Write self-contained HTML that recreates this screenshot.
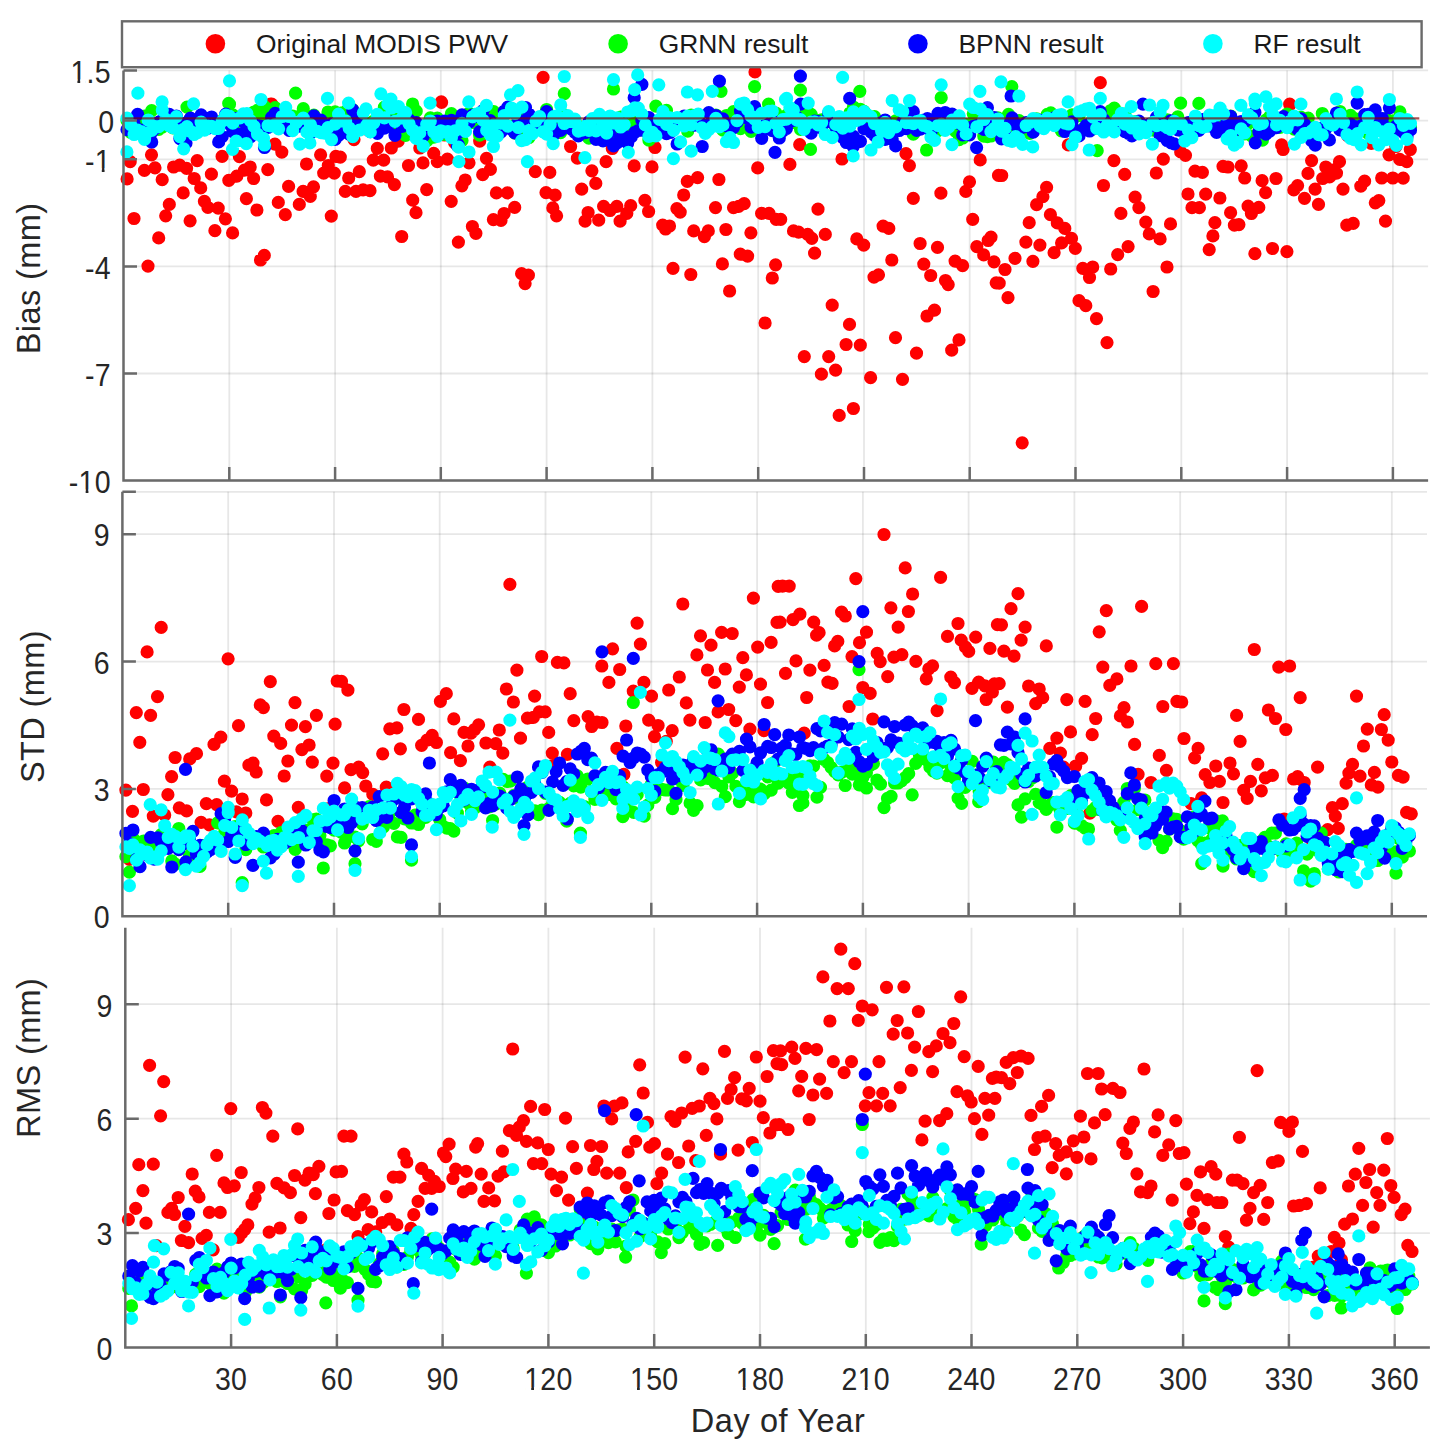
<!DOCTYPE html>
<html><head><meta charset="utf-8"><style>
html,body{margin:0;padding:0;background:#fff;}
svg{display:block;}
text{font-family:"Liberation Sans",sans-serif;fill:#262626;}
.tk{font-size:28.5px;letter-spacing:0.3px;}
.lb{font-size:32.5px;letter-spacing:0.4px;}
.xl{letter-spacing:0.6px;}
.lg{font-size:26.4px;fill:#1a1a1a;}
</style></head><body>
<svg width="1449" height="1444" viewBox="0 0 1449 1444">
<rect width="1449" height="1444" fill="#fff"/>
<path d="M229.3 70.4V480.5M335.1 70.4V480.5M440.8 70.4V480.5M546.6 70.4V480.5M652.4 70.4V480.5M758.2 70.4V480.5M864 70.4V480.5M969.7 70.4V480.5M1075.5 70.4V480.5M1181.3 70.4V480.5M1287.1 70.4V480.5M1392.9 70.4V480.5" stroke="#262626" stroke-opacity="0.11" stroke-width="1.8" fill="none"/>
<path d="M123.5 70.4H1428.1M123.5 120.6H1428.1M123.5 159.3H1428.1M123.5 266.4H1428.1M123.5 373.5H1428.1M123.5 480.5H1428.1" stroke="#262626" stroke-opacity="0.11" stroke-width="1.8" fill="none"/>
<path d="M270.8 104.6h0M274.9 144.2h0M281.8 152.1h0M151.5 154.8h0M222.1 156.4h0M239.4 156.7h0M130.2 161.7h0M320.6 154.8h0M335.9 156.4h0M306.5 164h0M197.2 160.6h0M173.6 167h0M179.7 165.2h0M186.6 168.3h0M155 167.8h0M144.4 170.4h0M127.1 178.9h0M162.2 179.7h0M194.2 178.5h0M211.4 174.2h0M228.8 180.3h0M236.8 176.2h0M244.5 170.1h0M250.2 167h0M253.6 178.5h0M267.8 169.6h0M323.7 173.1h0M328.3 165.5h0M334.3 173.1h0M200.7 187.9h0M183.2 192.9h0M288.6 186.4h0M303.1 191.4h0M313.5 186.8h0M310.3 196.4h0M169.3 204.4h0M204.4 201.3h0M207.9 207.4h0M218.2 208.2h0M246.4 198.7h0M256.9 210h0M278.3 202.4h0M299.3 204.4h0M134 218.5h0M165.7 215.8h0M190.1 220.8h0M225.4 218.8h0M285.3 214.7h0M331.3 216.1h0M214.9 230.7h0M232.6 232.9h0M158.7 237.9h0M264.3 255.4h0M260.5 260h0M148 266.1h0M340.3 157.1h0M348.7 178h0M359.3 171.6h0M345.3 191.4h0M356 191.4h0M363.1 189.9h0M370 190.7h0M373.3 160.2h0M377.3 148.4h0M383.7 160.2h0M391.3 148h0M398.2 141.1h0M380.4 176.2h0M387.5 176.9h0M394.4 184.6h0M408.5 165.5h0M423 162.9h0M419.8 148h0M433.7 153.3h0M437.3 161.7h0M447.4 159.1h0M426.7 189.6h0M412.7 200.2h0M416 212.7h0M401.7 236.5h0M444.6 135h0M454.6 142.7h0M469 162.8h0M465.2 180h0M461.9 185.8h0M451.2 201.3h0M458.4 242.1h0M472.4 226.5h0M475.9 233.3h0M486.5 158.4h0M490.4 169.3h0M482.7 174.7h0M479.7 141.1h0M496.4 192.9h0M507.4 192.9h0M514.7 207.4h0M504.1 213.5h0M493.4 219.6h0M501 220.4h0M535.3 171.6h0M549.8 172.4h0M546 192.6h0M555.1 195.2h0M552.8 207.9h0M556.6 215.8h0M521.6 273.7h0M528.4 275.2h0M525.1 283.6h0M441.6 102.3h0M354 139.6h0M365.4 128.9h0M570.6 146.5h0M577.4 158.2h0M591.9 170.8h0M595.8 183.4h0M581.7 189.2h0M606.1 161.7h0M612.3 148.5h0M634.2 165.9h0M652 166.9h0M655 147.5h0M588.1 212.5h0M585.1 221.2h0M598.7 220.2h0M603.6 206.3h0M610 210.5h0M616.8 206.3h0M620.1 221.2h0M626.8 213.4h0M630.7 205.7h0M644.9 200.4h0M648.6 211.5h0M662.7 225.1h0M669.5 226h0M665.6 229h0M676.9 208.6h0M680.2 212.1h0M683.7 195h0M687.3 181.4h0M697.6 177.6h0M718.9 179.5h0M715.5 207.6h0M693.7 230.9h0M704.4 236.7h0M708.3 230.9h0M725.9 229.5h0M733.5 207.6h0M744.2 203.7h0M738.7 206.3h0M750.9 232.8h0M740.3 254.2h0M747.6 256.1h0M722.4 263.9h0M673 268.3h0M690.8 274.5h0M729.6 291h0M765.1 323h0M757.7 167.9h0M761.6 213.4h0M769 213.4h0M776.2 219.3h0M775.6 264.8h0M772.3 278h0M714.1 115.5h0M799.7 144.6h0M789.9 164.4h0M842 159h0M906 153.7h0M909.4 165.6h0M980.2 159.9h0M998.5 175.4h0M969.5 181.8h0M965.8 191.4h0M940.9 193.2h0M913.3 198.3h0M818 209.2h0M780.7 219.3h0M793.5 230.9h0M798.6 232.1h0M807.7 234.4h0M811.8 238.3h0M825.3 234.4h0M814.6 253.1h0M856.8 238.9h0M863.7 245.1h0M883.1 226.1h0M888.8 228.4h0M891.8 260h0M920.1 243.5h0M937.5 247.4h0M923.8 264.1h0M930.7 275.5h0M955.1 261.1h0M962.6 265.7h0M945.5 280.5h0M948.2 284.6h0M972.7 219.3h0M976.8 246.7h0M983.7 254.9h0M988.2 240.5h0M991 237.1h0M994 261.8h0M996.2 282.8h0M874 277.1h0M878.5 274.8h0M832.2 305.2h0M849.5 324.4h0M846.1 344.5h0M860.3 345.2h0M804.3 356.6h0M828.7 356.6h0M821.4 374.2h0M835.6 370.1h0M870.6 377.7h0M895.5 337.7h0M916.5 353.2h0M902.5 379.3h0M927 316h0M934.5 310.2h0M959 339.9h0M951.7 350.2h0M839.2 415.4h0M853.4 408.5h0M1068.3 144.9h0M1001.7 175.5h0M1046.6 187.3h0M1042.9 196.7h0M1036.6 204.7h0M1029.2 222.7h0M1050.4 214.7h0M1057.3 222.9h0M1064.8 228.4h0M1071.5 238.4h0M1075.3 248.3h0M1061.6 242.9h0M1054.1 252.6h0M1039.9 245.1h0M1025.9 242.1h0M1032.9 261.3h0M1015 258.3h0M1005 269.5h0M999.2 283.2h0M1008 297.7h0M1082.8 268.3h0M1092.7 267h0M1089.5 277.5h0M1079 300.7h0M1085.8 305.7h0M1096.5 318.6h0M1107 342.6h0M1022.2 442.8h0M1113.9 160.6h0M1124.7 174.3h0M1103.5 185.5h0M1135.1 197.2h0M1138.9 207.7h0M1120.9 213.4h0M1145.8 222.2h0M1149.3 233.9h0M1160.1 238.9h0M1170.5 223.9h0M1128.1 246.6h0M1117.7 254.6h0M1110.7 269h0M1167 267h0M1153.1 291.5h0M1156.3 173h0M1163.3 159.1h0M1180.7 151.9h0M1185.5 155.3h0M1195 171.1h0M1202.4 172.3h0M1188 194h0M1205.7 194.2h0M1192 207.7h0M1199.4 207.7h0M1214.9 222.7h0M1212.9 235.9h0M1209.2 249.6h0M1223 166.3h0M1228 167h0M1241.2 165.8h0M1244.7 178h0M1219.9 198h0M1230.6 212.7h0M1234.4 225.2h0M1238.9 224.6h0M1248.1 206.2h0M1251.4 213.5h0M1258.8 207.4h0M1262.1 180.7h0M1265.6 192.6h0M1276 178.5h0M1254.9 253.6h0M1272.5 248.5h0M1286.9 251.6h0M1281.6 144.9h0M1283.1 149.5h0M1290 104.6h0M1293.8 189.9h0M1297.6 185.6h0M1304.5 198.3h0M1308 173.4h0M1311.6 160.6h0M1315.1 189.1h0M1318.5 204.4h0M1322.7 178.5h0M1325.8 167h0M1329.6 176.9h0M1331.9 170.1h0M1336.5 173.1h0M1339.5 161.7h0M1343 189.1h0M1346.8 225.2h0M1353.2 223.4h0M1360.8 186.1h0M1364.6 181.2h0M1371.2 143.4h0M1375.3 202.8h0M1378.8 200.6h0M1381.7 178h0M1385.5 221.1h0M1389 154.8h0M1392.8 178h0M1395.9 146.5h0M1399.7 159.4h0M1403.2 178.2h0M1406.8 161.7h0M1410.3 149.5h0M1302.9 128.9h0M1347.9 135.8h0M271.7 104.2h0M441.3 101.9h0M543.1 77.3h0M755 71.9h0M1100.3 82.6h0M1289.7 104.2h0M270.6 104.2h0" stroke="#ff0000" stroke-width="13.2" stroke-linecap="round" fill="none"/>
<path d="M127 120.5h0M130.6 132.4h0M134.1 123.1h0M137.6 123.1h0M141.1 124.6h0M144.7 116h0M148.2 117.7h0M151.7 110.6h0M155.2 127.2h0M158.8 129.3h0M162.3 127h0M165.8 123.4h0M169.3 115.2h0M172.9 127.9h0M176.4 123.7h0M179.9 127.5h0M183.4 125.4h0M187 107.1h0M190.5 118.7h0M194 131.2h0M197.5 123.1h0M201.1 120.3h0M204.6 125h0M208.1 121.7h0M211.6 126.2h0M215.2 121.9h0M218.7 123.5h0M222.2 120.6h0M225.8 120.4h0M229.3 123h0M232.8 114.9h0M236.3 122.2h0M239.9 119.7h0M243.4 119.9h0M246.9 129.5h0M250.4 123.7h0M254 112h0M257.5 110.3h0M261 113.6h0M264.5 106.7h0M268.1 123.4h0M271.6 109.7h0M275.1 107.7h0M278.6 113h0M282.2 112.5h0M285.7 113.4h0M289.2 123.8h0M292.7 116.2h0M296.3 117.8h0M299.8 116.2h0M303.3 108.7h0M306.9 127.5h0M310.4 125.4h0M313.9 115.1h0M317.4 127.9h0M321 122.4h0M324.5 132.1h0M328 112h0M331.5 126.5h0M335.1 111.9h0M338.6 118.8h0M342.1 112.8h0M345.6 111.7h0M349.2 114.6h0M352.7 109.6h0M356.2 123.8h0M359.7 126h0M363.3 123.6h0M366.8 123h0M370.3 125.6h0M373.8 121h0M377.4 120.1h0M380.9 127.6h0M384.4 107.2h0M387.9 121.2h0M391.5 127.2h0M395 114.9h0M398.5 125.5h0M402.1 130.1h0M405.6 135.4h0M409.1 131.6h0M412.6 104h0M416.2 111.2h0M419.7 129.1h0M423.2 131.8h0M426.7 140.9h0M430.3 117.9h0M433.8 137.1h0M437.3 118.1h0M440.8 130.8h0M444.4 134.3h0M447.9 124.5h0M451.4 113.7h0M454.9 123.8h0M458.5 129h0M462 140.6h0M465.5 117.9h0M469 113.1h0M472.6 122.5h0M476.1 122.3h0M479.6 135.2h0M483.2 133.7h0M486.7 129.5h0M490.2 116.4h0M493.7 111.6h0M497.3 132.8h0M500.8 122.4h0M504.3 112.4h0M507.8 109.5h0M511.4 126.3h0M514.9 133.1h0M518.4 125.5h0M521.9 116.6h0M525.5 133.7h0M529 137.5h0M532.5 131.5h0M536 123.2h0M539.6 121.4h0M543.1 128.3h0M546.6 109.5h0M550.1 118.3h0M553.7 119.6h0M557.2 124.2h0M560.7 132.6h0M564.2 114.9h0M567.8 120.6h0M571.3 119.4h0M574.8 124.7h0M578.4 126.1h0M581.9 131.5h0M585.4 127.2h0M588.9 138.2h0M592.5 137.5h0M596 123.5h0M599.5 125.8h0M603 128h0M606.6 121.8h0M610.1 133.3h0M613.6 137.5h0M617.1 119.6h0M620.7 117.1h0M624.2 123.5h0M627.7 127h0M631.2 134.3h0M634.8 116h0M638.3 124.6h0M641.8 129.8h0M645.3 129.9h0M648.9 140.1h0M652.4 134.1h0M655.9 106.2h0M659.5 129.7h0M663 128.9h0M666.5 110.4h0M670 117.9h0M673.6 126.4h0M677.1 125.1h0M680.6 122.8h0M684.1 124.2h0M687.7 131.1h0M691.2 115.1h0M694.7 124.1h0M698.2 117.5h0M701.8 124.4h0M705.3 126.5h0M708.8 125.3h0M712.3 119.6h0M715.9 115h0M719.4 119.4h0M722.9 130.2h0M726.4 115.5h0M730 129.5h0M733.5 111.7h0M737 123.7h0M740.5 128.6h0M744.1 125.6h0M747.6 119.6h0M751.1 131.3h0M754.7 122.7h0M758.2 123.6h0M761.7 129.1h0M765.2 115.9h0M768.8 128h0M772.3 115.7h0M775.8 113h0M779.3 134.4h0M782.9 124h0M786.4 115.3h0M789.9 121.2h0M793.4 122.3h0M797 120.8h0M800.5 129.3h0M804 112.7h0M807.5 111.3h0M811.1 114.3h0M814.6 119.4h0M818.1 123.2h0M821.6 119.9h0M825.2 119h0M828.7 117.7h0M832.2 120.3h0M835.8 127.6h0M839.3 129.8h0M842.8 133.2h0M846.3 136.2h0M849.9 113h0M853.4 107h0M856.9 112.9h0M860.4 109.3h0M864 111.3h0M867.5 122.7h0M871 131.2h0M874.5 116.7h0M878.1 124.7h0M881.6 130.9h0M885.1 135.7h0M888.6 132.5h0M892.2 124h0M895.7 120.8h0M899.2 126.3h0M902.7 126.5h0M906.3 123.7h0M909.8 113.4h0M913.3 134.2h0M916.8 120.8h0M920.4 128.6h0M923.9 122.2h0M927.4 120.4h0M931 120.5h0M934.5 124.5h0M938 130.7h0M941.5 122.5h0M945.1 127.3h0M948.6 123.2h0M952.1 116.7h0M955.6 131.4h0M959.2 139.6h0M962.7 138h0M966.2 124.5h0M969.7 129.1h0M973.3 113.8h0M976.8 126.1h0M980.3 123.6h0M983.8 136.2h0M987.4 136.6h0M990.9 136h0M994.4 134h0M997.9 117.9h0M1001.5 125.9h0M1005 127.3h0M1008.5 114.3h0M1012.1 125h0M1015.6 132.7h0M1019.1 120.7h0M1022.6 127.1h0M1026.2 132h0M1029.7 133.3h0M1033.2 131.7h0M1036.7 118.9h0M1040.3 122.5h0M1043.8 120.3h0M1047.3 114.3h0M1050.8 112.8h0M1054.4 115.9h0M1057.9 122.1h0M1061.4 130.8h0M1064.9 119.8h0M1068.5 119.9h0M1072 114.9h0M1075.5 115.6h0M1079 115.7h0M1082.6 129.1h0M1086.1 126.7h0M1089.6 123.3h0M1093.2 128.9h0M1096.7 116.7h0M1100.2 118.8h0M1103.7 115.2h0M1107.3 120.3h0M1110.8 110.5h0M1114.3 108.2h0M1117.8 113.3h0M1121.4 121.3h0M1124.9 114h0M1128.4 130.7h0M1131.9 124.5h0M1135.5 121.6h0M1139 129.2h0M1142.5 130.2h0M1146 128.8h0M1149.6 126.5h0M1153.1 130.1h0M1156.6 123.8h0M1160.1 124.4h0M1163.7 123.7h0M1167.2 119.9h0M1170.7 127.2h0M1174.2 122.1h0M1177.8 116.9h0M1181.3 130.3h0M1184.8 124.3h0M1188.4 134.2h0M1191.9 130.2h0M1195.4 130.1h0M1198.9 103.4h0M1202.5 121.2h0M1206 122.9h0M1209.5 118.2h0M1213 123.3h0M1216.6 117.3h0M1220.1 124.3h0M1223.6 126.6h0M1227.1 117.5h0M1230.7 116h0M1234.2 128h0M1237.7 123h0M1241.2 130.9h0M1244.8 133.8h0M1248.3 123.4h0M1251.8 136.2h0M1255.3 139.5h0M1258.9 125.3h0M1262.4 140.2h0M1265.9 120.2h0M1269.5 117h0M1273 124.2h0M1276.5 125.2h0M1280 127.4h0M1283.6 126h0M1287.1 114h0M1290.6 118.7h0M1294.1 129.2h0M1297.7 127.1h0M1301.2 117.3h0M1304.7 118.7h0M1308.2 118.2h0M1311.8 127.5h0M1315.3 129.1h0M1318.8 132.8h0M1322.3 113.5h0M1325.9 127h0M1329.4 122.4h0M1332.9 120.7h0M1336.4 114.9h0M1340 111.5h0M1343.5 121.8h0M1347 126.7h0M1350.5 115.4h0M1354.1 118.4h0M1357.6 127.6h0M1361.1 118.5h0M1364.7 124.9h0M1368.2 133.3h0M1371.7 125.8h0M1375.2 124.7h0M1378.8 130.1h0M1382.3 120.7h0M1385.8 118.7h0M1389.3 121.8h0M1392.9 120.9h0M1396.4 122.6h0M1399.9 111.8h0M1403.4 127.5h0M1407 123.5h0M1410.5 127.4h0M229.5 104.2h0M295.6 93.2h0M413.6 107.8h0M564.3 93.7h0M613.5 89h0M754.6 86.6h0M768.6 104.2h0M721 91.3h0M800.4 90.2h0M859.8 91.3h0M941.2 97.7h0M1011.8 86.6h0M1097.2 150.7h0M810.5 149.3h0M926.6 150h0M1180.6 103.1h0M228.7 103.3h0" stroke="#00ff00" stroke-width="13.2" stroke-linecap="round" fill="none"/>
<path d="M127 129.7h0M130.6 124.7h0M134.1 123.7h0M137.6 114.3h0M141.1 130.2h0M144.7 130h0M148.2 128h0M151.7 142h0M155.2 128.5h0M158.8 122.2h0M162.3 119.8h0M165.8 122.3h0M169.3 114.3h0M172.9 124.4h0M176.4 116h0M179.9 138.6h0M183.4 126.8h0M187 122.4h0M190.5 118.1h0M194 131h0M197.5 122.7h0M201.1 114.9h0M204.6 121.8h0M208.1 128.2h0M211.6 117h0M215.2 123.4h0M218.7 141.9h0M222.2 136.6h0M225.8 114.2h0M229.3 124h0M232.8 131.5h0M236.3 118.5h0M239.9 134.1h0M243.4 121.6h0M246.9 126.3h0M250.4 136.8h0M254 124.7h0M257.5 125.7h0M261 126.3h0M264.5 147.5h0M268.1 127.4h0M271.6 117.4h0M275.1 113.4h0M278.6 120h0M282.2 114h0M285.7 123.5h0M289.2 130.4h0M292.7 122.4h0M296.3 123.2h0M299.8 126.1h0M303.3 122.7h0M306.9 124.8h0M310.4 133h0M313.9 115.8h0M317.4 123.1h0M321 120.1h0M324.5 132.3h0M328 131h0M331.5 123.8h0M335.1 139.4h0M338.6 135.4h0M342.1 121.9h0M345.6 128.5h0M349.2 134.1h0M352.7 109.9h0M356.2 119.9h0M359.7 128h0M363.3 127.8h0M366.8 126.9h0M370.3 131.7h0M373.8 128.4h0M377.4 133.3h0M380.9 122.4h0M384.4 128.2h0M387.9 125.8h0M391.5 122.1h0M395 135.3h0M398.5 121.3h0M402.1 126.4h0M405.6 118.6h0M409.1 119.8h0M412.6 125.1h0M416.2 122.7h0M419.7 132.8h0M423.2 136.1h0M426.7 129h0M430.3 129.5h0M433.8 132.1h0M437.3 121.2h0M440.8 132.9h0M444.4 121.2h0M447.9 123.8h0M451.4 120.4h0M454.9 136h0M458.5 132.4h0M462 114.9h0M465.5 120.5h0M469 122.3h0M472.6 115h0M476.1 116.3h0M479.6 131.7h0M483.2 110.5h0M486.7 128.3h0M490.2 120.7h0M493.7 135.9h0M497.3 127.8h0M500.8 132.2h0M504.3 111.2h0M507.8 107.1h0M511.4 129.4h0M514.9 132.9h0M518.4 120.1h0M521.9 121.5h0M525.5 107.5h0M529 114.1h0M532.5 118.6h0M536 125.8h0M539.6 127.8h0M543.1 122.5h0M546.6 111.6h0M550.1 124.3h0M553.7 134.8h0M557.2 129.8h0M560.7 130.4h0M564.2 121.3h0M567.8 119.1h0M571.3 129h0M574.8 132.4h0M578.4 135.9h0M581.9 132.4h0M585.4 132.7h0M588.9 121.9h0M592.5 128.9h0M596 139.4h0M599.5 137.3h0M603 140.9h0M606.6 138.1h0M610.1 131.8h0M613.6 145.9h0M617.1 142.8h0M620.7 138.3h0M624.2 136h0M627.7 143h0M631.2 136.9h0M634.8 132.4h0M638.3 130.5h0M641.8 119.9h0M645.3 131.1h0M648.9 117.6h0M652.4 128.1h0M655.9 125.1h0M659.5 126h0M663 119.3h0M666.5 133.6h0M670 132.5h0M673.6 122.5h0M677.1 144h0M680.6 120h0M684.1 116.2h0M687.7 123h0M691.2 120.9h0M694.7 125.1h0M698.2 122.3h0M701.8 124.2h0M705.3 128.8h0M708.8 112.6h0M712.3 118.3h0M715.9 115.5h0M719.4 121.4h0M722.9 118.8h0M726.4 125.8h0M730 125.6h0M733.5 127.6h0M737 122.1h0M740.5 111.1h0M744.1 108.9h0M747.6 118.4h0M751.1 127.2h0M754.7 120h0M758.2 123.7h0M761.7 138.3h0M765.2 129.4h0M768.8 123.7h0M772.3 130.6h0M775.8 122.4h0M779.3 138h0M782.9 130.8h0M786.4 128.5h0M789.9 121.3h0M793.4 120.3h0M797 117.4h0M800.5 104.2h0M804 123.4h0M807.5 128h0M811.1 133.2h0M814.6 121.2h0M818.1 121.5h0M821.6 128h0M825.2 121.7h0M828.7 113.2h0M832.2 122.5h0M835.8 132.7h0M839.3 134.6h0M842.8 137.7h0M846.3 142.5h0M849.9 134.4h0M853.4 136.3h0M856.9 141.1h0M860.4 141.4h0M864 128.7h0M867.5 129h0M871 132h0M874.5 135.4h0M878.1 137.2h0M881.6 122.6h0M885.1 120h0M888.6 127.6h0M892.2 139h0M895.7 145.9h0M899.2 130.5h0M902.7 121.8h0M906.3 128.7h0M909.8 121.8h0M913.3 111.7h0M916.8 130.4h0M920.4 129.2h0M923.9 120.1h0M927.4 118.6h0M931 132.1h0M934.5 122.5h0M938 113.4h0M941.5 116.9h0M945.1 112.5h0M948.6 123.5h0M952.1 114.2h0M955.6 121.7h0M959.2 123.7h0M962.7 134.9h0M966.2 127.7h0M969.7 134.8h0M973.3 126.4h0M976.8 125.7h0M980.3 127.1h0M983.8 129.3h0M987.4 107.7h0M990.9 123.4h0M994.4 117.6h0M997.9 129h0M1001.5 138.8h0M1005 134.6h0M1008.5 124.2h0M1012.1 117.8h0M1015.6 125.2h0M1019.1 125h0M1022.6 127.3h0M1026.2 122.7h0M1029.7 127.2h0M1033.2 132.2h0M1036.7 126.8h0M1040.3 120.4h0M1043.8 121.3h0M1047.3 118.9h0M1050.8 123.1h0M1054.4 117.9h0M1057.9 121.5h0M1061.4 123.6h0M1064.9 131.5h0M1068.5 126.4h0M1072 121.8h0M1075.5 130.6h0M1079 135.9h0M1082.6 129.9h0M1086.1 125.3h0M1089.6 131h0M1093.2 124.7h0M1096.7 124.2h0M1100.2 111.7h0M1103.7 119.6h0M1107.3 128.5h0M1110.8 129h0M1114.3 124.7h0M1117.8 127.8h0M1121.4 125.1h0M1124.9 131.7h0M1128.4 133.3h0M1131.9 135.9h0M1135.5 123.2h0M1139 121.2h0M1142.5 129.8h0M1146 128.7h0M1149.6 124.1h0M1153.1 125.6h0M1156.6 117.1h0M1160.1 135.7h0M1163.7 124.9h0M1167.2 140.5h0M1170.7 120.9h0M1174.2 143.8h0M1177.8 129.8h0M1181.3 130.1h0M1184.8 131.3h0M1188.4 122.6h0M1191.9 124.3h0M1195.4 125.8h0M1198.9 130.3h0M1202.5 119.7h0M1206 123.8h0M1209.5 125.8h0M1213 118.7h0M1216.6 132.4h0M1220.1 128.1h0M1223.6 128.8h0M1227.1 121.4h0M1230.7 116.3h0M1234.2 130.7h0M1237.7 126.6h0M1241.2 121.7h0M1244.8 121.7h0M1248.3 116.7h0M1251.8 117.6h0M1255.3 142.8h0M1258.9 132.1h0M1262.4 124.1h0M1265.9 134.2h0M1269.5 131.3h0M1273 124h0M1276.5 127.7h0M1280 124.8h0M1283.6 116.6h0M1287.1 121.8h0M1290.6 122.9h0M1294.1 120h0M1297.7 129.4h0M1301.2 118.8h0M1304.7 124.3h0M1308.2 135h0M1311.8 140.9h0M1315.3 145.2h0M1318.8 130.3h0M1322.3 128h0M1325.9 128.5h0M1329.4 139.9h0M1332.9 120.7h0M1336.4 113h0M1340 129.9h0M1343.5 129.2h0M1347 134.5h0M1350.5 124.2h0M1354.1 126.3h0M1357.6 131h0M1361.1 125.8h0M1364.7 114.7h0M1368.2 114.4h0M1371.7 125.8h0M1375.2 109.9h0M1378.8 121.5h0M1382.3 118.5h0M1385.8 127.4h0M1389.3 129.1h0M1392.9 131.1h0M1396.4 125.9h0M1399.9 129.6h0M1403.4 132.4h0M1407 136.6h0M1410.5 129.9h0M186 142.9h0M151.6 132.4h0M719.4 81.2h0M641.9 84.3h0M634.2 97.7h0M754.6 106.6h0M743.3 106.6h0M458.2 144.6h0M775 152.3h0M702.2 146.5h0M800.4 76.1h0M1011.1 96h0M849.7 98.4h0M976.6 147.6h0M853.2 146.5h0M885.1 139.4h0M1357.2 103.1h0M1389.4 107.8h0M1143 104.2h0M1254.9 112.4h0M1171.2 142.9h0M457.4 145.6h0" stroke="#0000ff" stroke-width="13.2" stroke-linecap="round" fill="none"/>
<path d="M127 118.1h0M130.6 124.6h0M134.1 134.5h0M137.6 130.1h0M141.1 131.5h0M144.7 137.6h0M148.2 120h0M151.7 130.4h0M155.2 126.7h0M158.8 126.6h0M162.3 110h0M165.8 119.3h0M169.3 125.9h0M172.9 127.6h0M176.4 116.6h0M179.9 136.6h0M183.4 129.4h0M187 126.7h0M190.5 131.4h0M194 134.5h0M197.5 132.7h0M201.1 122.2h0M204.6 130.1h0M208.1 126.1h0M211.6 126.4h0M215.2 128.7h0M218.7 128.3h0M222.2 121.1h0M225.8 115.2h0M229.3 116.2h0M232.8 123.1h0M236.3 141.2h0M239.9 117.8h0M243.4 113.9h0M246.9 113.7h0M250.4 120.6h0M254 126.4h0M257.5 134.1h0M261 99.5h0M264.5 145h0M268.1 125.5h0M271.6 126h0M275.1 124.5h0M278.6 128.8h0M282.2 116.5h0M285.7 107.3h0M289.2 116.5h0M292.7 130.7h0M296.3 122.7h0M299.8 144.1h0M303.3 118.1h0M306.9 132.1h0M310.4 124.6h0M313.9 130.5h0M317.4 131.3h0M321 132.6h0M324.5 133.1h0M328 127.6h0M331.5 139.6h0M335.1 124.1h0M338.6 114.2h0M342.1 120.9h0M345.6 121.1h0M349.2 128h0M352.7 136.7h0M356.2 131.7h0M359.7 130h0M363.3 112.8h0M366.8 125.1h0M370.3 131.9h0M373.8 122.8h0M377.4 114.3h0M380.9 93.8h0M384.4 117.9h0M387.9 104.4h0M391.5 108h0M395 121.3h0M398.5 106.7h0M402.1 117.8h0M405.6 112.7h0M409.1 123.8h0M412.6 130h0M416.2 138.4h0M419.7 132.9h0M423.2 146.1h0M426.7 124.3h0M430.3 121h0M433.8 132h0M437.3 136.3h0M440.8 130.9h0M444.4 131.9h0M447.9 131.7h0M451.4 137.7h0M454.9 130.8h0M458.5 147.2h0M462 123.3h0M465.5 131.4h0M469 152h0M472.6 116.9h0M476.1 114.1h0M479.6 112.8h0M483.2 120.4h0M486.7 130.4h0M490.2 134.8h0M493.7 124.9h0M497.3 136.1h0M500.8 123.1h0M504.3 115.5h0M507.8 126.2h0M511.4 108h0M514.9 113.5h0M518.4 127.5h0M521.9 107.2h0M525.5 139.7h0M529 130.5h0M532.5 133.6h0M536 120.8h0M539.6 116.7h0M543.1 131.9h0M546.6 134.2h0M550.1 124.5h0M553.7 116.6h0M557.2 115.9h0M560.7 104.9h0M564.2 123.5h0M567.8 115.6h0M571.3 121.5h0M574.8 119.2h0M578.4 131.2h0M581.9 130.2h0M585.4 126.4h0M588.9 130.3h0M592.5 118.7h0M596 130.8h0M599.5 114.4h0M603 124.3h0M606.6 133.1h0M610.1 116h0M613.6 123h0M617.1 117.9h0M620.7 127h0M624.2 124.7h0M627.7 112h0M631.2 111.1h0M634.8 107.9h0M638.3 108.1h0M641.8 114.1h0M645.3 124.9h0M648.9 136.4h0M652.4 132.4h0M655.9 135.9h0M659.5 119.4h0M663 111.6h0M666.5 124.4h0M670 117.8h0M673.6 130.4h0M677.1 117.5h0M680.6 141.9h0M684.1 126h0M687.7 116.2h0M691.2 124.8h0M694.7 115.5h0M698.2 114.2h0M701.8 127.8h0M705.3 133.3h0M708.8 129.5h0M712.3 126.7h0M715.9 118.3h0M719.4 126.9h0M722.9 124.9h0M726.4 141.6h0M730 137.7h0M733.5 142.5h0M737 120.7h0M740.5 104.2h0M744.1 103h0M747.6 109.6h0M751.1 116.1h0M754.7 119.2h0M758.2 127.3h0M761.7 113.3h0M765.2 126.6h0M768.8 111.4h0M772.3 111h0M775.8 123.5h0M779.3 131.8h0M782.9 119.6h0M786.4 119.2h0M789.9 107.5h0M793.4 110h0M797 120.1h0M800.5 119.7h0M804 129.4h0M807.5 123.6h0M811.1 122.1h0M814.6 121.9h0M818.1 124.8h0M821.6 122.5h0M825.2 134.5h0M828.7 111.6h0M832.2 137.6h0M835.8 124.4h0M839.3 116.7h0M842.8 128.1h0M846.3 117.9h0M849.9 126.1h0M853.4 111.9h0M856.9 120.4h0M860.4 119.2h0M864 111.7h0M867.5 114.8h0M871 116.9h0M874.5 123.6h0M878.1 142h0M881.6 131h0M885.1 122.3h0M888.6 132.7h0M892.2 125.8h0M895.7 126.9h0M899.2 109.8h0M902.7 111.5h0M906.3 122.7h0M909.8 122.7h0M913.3 123.6h0M916.8 121.6h0M920.4 120.5h0M923.9 125.5h0M927.4 126.6h0M931 137.3h0M934.5 140.4h0M938 125.5h0M941.5 124.3h0M945.1 130.3h0M948.6 127h0M952.1 120.2h0M955.6 122.4h0M959.2 115.8h0M962.7 124.9h0M966.2 133.9h0M969.7 104.1h0M973.3 107.5h0M976.8 126.9h0M980.3 109.2h0M983.8 119.5h0M987.4 114.6h0M990.9 131.6h0M994.4 128.3h0M997.9 119h0M1001.5 131.2h0M1005 128.3h0M1008.5 140.4h0M1012.1 141.3h0M1015.6 136.6h0M1019.1 138.8h0M1022.6 144.3h0M1026.2 125.5h0M1029.7 122.5h0M1033.2 118.6h0M1036.7 119.3h0M1040.3 126.1h0M1043.8 128.7h0M1047.3 118.2h0M1050.8 120.5h0M1054.4 125.6h0M1057.9 115.4h0M1061.4 114.5h0M1064.9 123.2h0M1068.5 124h0M1072 144.7h0M1075.5 137h0M1079 111.8h0M1082.6 110.5h0M1086.1 109.2h0M1089.6 108.4h0M1093.2 117.2h0M1096.7 128.3h0M1100.2 114.6h0M1103.7 132h0M1107.3 125h0M1110.8 129.1h0M1114.3 131.8h0M1117.8 119.5h0M1121.4 113.4h0M1124.9 124.2h0M1128.4 119.8h0M1131.9 128h0M1135.5 121.8h0M1139 133.8h0M1142.5 126.6h0M1146 132.6h0M1149.6 105h0M1153.1 122.4h0M1156.6 125.7h0M1160.1 111.9h0M1163.7 125.4h0M1167.2 127.7h0M1170.7 129.4h0M1174.2 121.3h0M1177.8 123.5h0M1181.3 124.2h0M1184.8 141h0M1188.4 130.1h0M1191.9 137.6h0M1195.4 116h0M1198.9 125.6h0M1202.5 127.4h0M1206 126.3h0M1209.5 115.1h0M1213 116.1h0M1216.6 115h0M1220.1 108.2h0M1223.6 113.8h0M1227.1 138.8h0M1230.7 135.5h0M1234.2 145.2h0M1237.7 142.5h0M1241.2 128.8h0M1244.8 132.8h0M1248.3 114.9h0M1251.8 117.8h0M1255.3 103.4h0M1258.9 124.4h0M1262.4 123.4h0M1265.9 96.8h0M1269.5 106.6h0M1273 114.6h0M1276.5 124.9h0M1280 120.3h0M1283.6 123.7h0M1287.1 127.6h0M1290.6 121h0M1294.1 116.2h0M1297.7 119.8h0M1301.2 137.3h0M1304.7 133.5h0M1308.2 133h0M1311.8 130.9h0M1315.3 127.3h0M1318.8 134.6h0M1322.3 134.9h0M1325.9 118.7h0M1329.4 123.5h0M1332.9 125h0M1336.4 99h0M1340 114.4h0M1343.5 122.5h0M1347 134.7h0M1350.5 138.3h0M1354.1 139.6h0M1357.6 133.7h0M1361.1 144.8h0M1364.7 127.5h0M1368.2 117.3h0M1371.7 137.7h0M1375.2 127.5h0M1378.8 144.8h0M1382.3 131.8h0M1385.8 139.7h0M1389.3 129h0M1392.9 140.4h0M1396.4 145.3h0M1399.9 118.5h0M1403.4 125.3h0M1407 119.5h0M1410.5 123.3h0M229.5 80.8h0M137.9 93.2h0M162.1 101.9h0M193.6 103.8h0M327.5 98.4h0M348.6 103.1h0M430.1 103.1h0M390.9 99.1h0M366 108.9h0M126.9 151.9h0M183.7 148.8h0M232.5 149.3h0M246.3 143.7h0M309.9 142.9h0M144.5 139.4h0M263.5 138.3h0M564.3 76.5h0M613.5 79.6h0M637.7 74.9h0M658.8 84.8h0M634.7 89.7h0M518 90.6h0M510.5 94.8h0M687.4 92h0M697.5 94.8h0M712.3 91.3h0M785.5 99.5h0M468.8 101.9h0M486.4 105.4h0M458.9 161.7h0M527.4 161.7h0M584.9 157.7h0M673.4 158.7h0M691.2 151.2h0M628.3 152.3h0M553.2 143.7h0M493.4 146.5h0M521.6 140.6h0M842.6 77.3h0M941.2 84.8h0M979.9 91.3h0M1001 81.9h0M1018.9 96h0M786.6 98.4h0M808.2 103.1h0M892.2 100.7h0M909.5 100.7h0M1068.1 101.9h0M1100.3 98.4h0M853.2 155.9h0M871 150h0M952 144.6h0M1032.7 146.9h0M1089.2 150h0M1357.2 92h0M1389.4 99.5h0M1254.9 99.1h0M1240.9 105.4h0M1276.1 103.8h0M1300.9 104.2h0M1163 105.4h0M1131.3 106.6h0M1152.4 144.1h0M1294.4 144.1h0M1407 139.4h0" stroke="#00ffff" stroke-width="13.2" stroke-linecap="round" fill="none"/>
<path d="M123 118.4H1419.3" stroke="#800000" stroke-opacity="0.68" stroke-width="2.2" fill="none"/>
<path d="M123.5 70.4V480.5H1428.1M229.3 480.5v-13.5M335.1 480.5v-13.5M440.8 480.5v-13.5M546.6 480.5v-13.5M652.4 480.5v-13.5M758.2 480.5v-13.5M864 480.5v-13.5M969.7 480.5v-13.5M1075.5 480.5v-13.5M1181.3 480.5v-13.5M1287.1 480.5v-13.5M1392.9 480.5v-13.5M123.5 70.4h13.5M123.5 120.6h13.5M123.5 159.3h13.5M123.5 266.4h13.5M123.5 373.5h13.5M123.5 480.5h13.5" stroke="#6a6a6a" stroke-width="2.5" fill="none"/>
<g transform="translate(110.9 82.6) scale(1 1.07)"><text text-anchor="end" class="tk">1.5</text><path d="M-39.36 -3H-33.48V0.9H-39.36ZM-30.72 -3H-25.17V0.9H-30.72Z" fill="#fff"/></g>
<g transform="translate(114.3 132.8) scale(1 1.07)"><text text-anchor="end" class="tk">0</text></g>
<g transform="translate(110.9 171.5) scale(1 1.07)"><text text-anchor="end" class="tk">-1</text><path d="M-14.97 -3H-9.10V0.9H-14.97ZM-6.34 -3H-0.79V0.9H-6.34Z" fill="#fff"/></g>
<g transform="translate(110.9 278.6) scale(1 1.07)"><text text-anchor="end" class="tk">-4</text></g>
<g transform="translate(110.9 385.7) scale(1 1.07)"><text text-anchor="end" class="tk">-7</text></g>
<g transform="translate(110.9 492.7) scale(1 1.07)"><text text-anchor="end" class="tk">-10</text><path d="M-31.12 -3H-25.24V0.9H-31.12ZM-22.48 -3H-16.93V0.9H-22.48Z" fill="#fff"/></g>
<text transform="translate(39.9 278.4) rotate(-90)" text-anchor="middle" class="lb">Bias (mm)</text>
<path d="M228.2 491.8V916.2M334 491.8V916.2M439.7 491.8V916.2M545.5 491.8V916.2M651.3 491.8V916.2M757.1 491.8V916.2M862.9 491.8V916.2M968.6 491.8V916.2M1074.4 491.8V916.2M1180.2 491.8V916.2M1286 491.8V916.2M1391.8 491.8V916.2" stroke="#262626" stroke-opacity="0.11" stroke-width="1.8" fill="none"/>
<path d="M122.4 916.2H1427M122.4 788.9H1427M122.4 661.6H1427M122.4 534.2H1427M122.4 491.8H1427" stroke="#262626" stroke-opacity="0.11" stroke-width="1.8" fill="none"/>
<path d="M161.2 627.4h0M147.1 651.9h0M228.1 658.8h0M270.3 681.6h0M337.2 681h0M157.5 696.6h0M136.3 712.6h0M150.6 715.3h0M139.8 742.3h0M238.5 725.7h0M260.3 704.9h0M263.4 707.6h0M295 702.6h0M291.5 725.1h0M305.4 726.7h0M316.4 715.3h0M335.1 724.2h0M220.8 737.1h0M214 744.4h0M273.8 736.1h0M280.7 743.4h0M301.9 749.6h0M309.1 745h0M175.1 757.5h0M189.7 758.9h0M196.5 753.7h0M171.6 776.6h0M248.9 765.2h0M253 763.1h0M256.2 772h0M287.9 761h0M312.3 762.1h0M333 763.1h0M284.2 776h0M326.8 776.2h0M125.9 790.1h0M143.3 789.5h0M167.9 794.7h0M224.4 781.2h0M231.6 791.1h0M242.2 799h0M266.5 799.9h0M132.5 811.3h0M153.3 816.1h0M164.7 815h0M179.3 807.8h0M186.6 810.9h0M206.3 803.6h0M216.7 804.6h0M236.4 811.9h0M245.8 813h0M298.3 807.3h0M327.8 808.8h0M209.4 824.8h0M201.1 822.3h0M129.4 859.3h0M278 821.3h0M321.6 823.3h0M509.9 584.3h0M541.7 656.5h0M557.4 662.4h0M341.5 681.3h0M347.9 690.2h0M516.9 670.2h0M506.4 689h0M513.4 702h0M534.6 696.1h0M539.3 711.9h0M545.2 711.9h0M527.5 718.2h0M533.4 717.3h0M548.7 732.4h0M520.5 738.2h0M499.3 730h0M403.9 709.5h0M418.5 719.4h0M389.8 728.8h0M396.9 727.9h0M400.4 748.8h0M382.7 753.8h0M440.4 701.3h0M446.3 693.7h0M453.8 718.9h0M464 732.4h0M471 733.1h0M478.6 724.8h0M474.6 729.5h0M468 746h0M485.9 743h0M495.8 743.7h0M502.8 753.1h0M450.6 752.6h0M460.4 760.6h0M421.6 745.3h0M427 740.1h0M432.2 735.4h0M436.4 742.5h0M351 769.6h0M358.7 767.2h0M362.7 772.6h0M344.6 787.9h0M365.8 786h0M372.8 794.3h0M386.3 787.2h0M552.3 753.1h0M554.6 763.7h0M489.9 767.2h0M563.9 662.9h0M570.2 693.7h0M573.8 720.6h0M588.1 716.6h0M591.7 726.5h0M596.9 722h0M602 722.5h0M612.6 648.8h0M601.8 666h0M619.7 669.5h0M608.9 682.4h0M637.1 623.1h0M640.4 644.1h0M643.9 682.4h0M633.3 691.2h0M651.5 696.1h0M625.8 726h0M648.7 720.1h0M658.1 725.5h0M654.5 736.6h0M668.7 690h0M679.3 677h0M682.8 604h0M686.3 702.9h0M689.9 720.1h0M696.9 654.9h0M700.5 635.8h0M711 645.2h0M707.5 670h0M714.6 682.4h0M721.6 632.3h0M732.2 633.5h0M725.2 669h0M718.1 711.9h0M728.7 709.5h0M735.8 720.6h0M749.9 729.1h0M742.8 657.7h0M746.4 674.9h0M739.3 687.1h0M753.4 598.1h0M757.7 647.1h0M760.5 684.1h0M767.6 702.5h0M771.1 642.4h0M777 622.4h0M778.2 586.4h0M764 730.7h0M705.2 722.5h0M672.2 730.7h0M666.3 741.3h0M578 783.7h0M567.4 754.3h0M616.9 748.4h0M623.9 774.3h0M661.6 762.5h0M884 534.5h0M905.2 567.9h0M940.6 577.3h0M855.8 578.6h0M782.5 586.1h0M789.2 586.1h0M912.6 594h0M890.9 607.8h0M908.4 611.5h0M898.2 627.2h0M780 622.2h0M793 619.7h0M799.9 614.2h0M813.7 622.2h0M819.1 632.7h0M816.6 635.2h0M841.6 612.2h0M845.3 616h0M837.8 641.4h0M834.6 645.9h0M866.5 632.2h0M859.5 642.7h0M852 656.6h0M877.2 653.4h0M880.2 661.6h0M893.9 657.1h0M901.9 654.6h0M915.9 661.4h0M932.6 665.8h0M928.8 668.8h0M926.3 678.8h0M887.7 676.6h0M958 623.5h0M947.5 636.4h0M961.2 640.2h0M965.5 647.2h0M968.7 651.4h0M975.7 637.2h0M989.9 648.4h0M997.4 624.7h0M796 660.9h0M785.5 673.3h0M809.9 670.1h0M824.1 665.4h0M827.9 682.1h0M832.1 683.3h0M806.7 697.5h0M862.8 687.5h0M870.2 693.3h0M849.1 706.5h0M872.7 719h0M950.8 677.1h0M954.5 682.6h0M972 688.3h0M978.7 682.1h0M984.9 685.8h0M994.4 683.8h0M986.2 699.5h0M992.4 692h0M937.1 710.7h0M804.2 733.2h0M1018 593.7h0M1011 608.7h0M1001.5 624.8h0M1025.1 627.1h0M1021.1 640.1h0M1003.9 651.1h0M1014 656.1h0M1046.3 645.9h0M999.2 683.6h0M1028.6 686h0M1039.2 689h0M1042.7 697.7h0M1035.7 703.6h0M1007.4 707.2h0M1066.8 699.6h0M1085.1 701.3h0M1095.7 718.5h0M1092.2 734.7h0M1070.5 731.9h0M1056.9 738.2h0M1049.8 748.4h0M1060.4 753.1h0M1081.6 758.3h0M1075.7 766h0M1063.5 767.2h0M1106.3 610.6h0M1099.2 631.8h0M1141.6 606.4h0M1102.8 667.1h0M1131 666h0M1155.8 663.6h0M1173.4 663.6h0M1116.9 678.9h0M1109.8 685.3h0M1124 707.6h0M1120.4 715.9h0M1127.5 722h0M1134.6 744.4h0M1162.8 706.5h0M1176.9 701.3h0M1181.7 702h0M1184 738.5h0M1159.3 755.4h0M1166.4 770.3h0M1138.1 774.3h0M1198.1 748.4h0M1194.6 757.8h0M1215.8 766h0M1205.2 774.7h0M1209.9 782.5h0M1201.7 797.8h0M1191.1 803.7h0M1151 782.5h0M1089.8 813.1h0M1254.3 649.5h0M1278.8 667.1h0M1289.6 666h0M1300.2 697.7h0M1236.6 715.4h0M1268.4 710h0M1275.5 718.5h0M1285.8 729.5h0M1240.1 741.3h0M1230 763h0M1233.5 773.8h0M1219.4 781.3h0M1257.8 764.4h0M1265.3 777.8h0M1272.4 775.4h0M1250.5 781.3h0M1243.7 790.3h0M1247.2 798.3h0M1261.3 790.8h0M1223 802.5h0M1293.6 779h0M1297.6 776.6h0M1304.2 782.5h0M1317.6 767.2h0M1356.5 696.1h0M1384.2 714.7h0M1367.3 729.1h0M1381.4 729.5h0M1388.2 740.1h0M1363.5 746h0M1391.8 762h0M1352.5 764.4h0M1348.9 773.1h0M1360 776.2h0M1346.1 783.2h0M1374.4 772.4h0M1371.3 784.9h0M1377.9 787.2h0M1398.4 775.4h0M1403.1 777.1h0M1332.4 807.7h0M1342.3 803.7h0M1335.3 816.2h0M1406.6 812.4h0M1411.3 813.8h0M1311.2 839h0M1320.7 837.8h0M1327.7 829.6h0M1338.3 828.4h0M1284.2 819h0" stroke="#ff0000" stroke-width="13.2" stroke-linecap="round" fill="none"/>
<path d="M125.9 856.6h0M129.5 844h0M133 838.1h0M136.5 853h0M140 849h0M143.6 841h0M147.1 843.6h0M150.6 839.7h0M154.1 846.6h0M157.7 844.7h0M161.2 834.6h0M164.7 837.4h0M168.2 839.9h0M171.8 860.9h0M175.3 864.1h0M178.8 828.5h0M182.3 839.3h0M185.9 842.9h0M189.4 855.7h0M192.9 864.2h0M196.4 860.8h0M200 866.4h0M203.5 845.7h0M207 851.2h0M210.6 847.6h0M214.1 840.3h0M217.6 822.8h0M221.1 842.5h0M224.7 832h0M228.2 830.8h0M231.7 831.8h0M235.2 826.5h0M238.8 826.5h0M242.3 834.9h0M245.8 849.6h0M249.3 841.8h0M252.9 841.8h0M256.4 839.2h0M259.9 840.3h0M263.4 847h0M267 840.5h0M270.5 844.8h0M274 835.6h0M277.5 848h0M281.1 832.7h0M284.6 833.3h0M288.1 842h0M291.6 831.3h0M295.2 849.4h0M298.7 844.6h0M302.2 842.3h0M305.8 830.3h0M309.3 841.2h0M312.8 819.9h0M316.3 819.1h0M319.9 835.4h0M323.4 826.8h0M326.9 844.9h0M330.4 845.8h0M334 830.1h0M337.5 822.3h0M341 832.2h0M344.5 843h0M348.1 837h0M351.6 818.6h0M355.1 837.2h0M358.6 840.8h0M362.2 823.8h0M365.7 815.5h0M369.2 806.6h0M372.7 839.5h0M376.3 841.4h0M379.8 821.8h0M383.3 827.2h0M386.9 818.1h0M390.4 812.2h0M393.9 823.4h0M397.4 836.9h0M401 837.4h0M404.5 818.9h0M408 817.3h0M411.5 823h0M415.1 815.2h0M418.6 824.5h0M422.1 804.8h0M425.6 817.4h0M429.2 812.1h0M432.7 806.8h0M436.2 812.3h0M439.7 819.5h0M443.3 826.4h0M446.8 828.1h0M450.3 828.7h0M453.8 831.1h0M457.4 813.2h0M460.9 797.6h0M464.4 788.1h0M467.9 802.8h0M471.5 811.3h0M475 807.8h0M478.5 800.7h0M482.1 800.6h0M485.6 791.5h0M489.1 806.9h0M492.6 820.5h0M496.2 803.9h0M499.7 793.2h0M503.2 779.3h0M506.7 781.4h0M510.3 781.2h0M513.8 795.3h0M517.3 798.3h0M520.8 793.8h0M524.4 791.3h0M527.9 787h0M531.4 812.6h0M534.9 810.9h0M538.5 814.6h0M542 810.1h0M545.5 793.3h0M549 808.3h0M552.6 803.6h0M556.1 806.2h0M559.6 802.3h0M563.1 808.3h0M566.7 821.1h0M570.2 803.3h0M573.7 785.8h0M577.3 775.8h0M580.8 787.1h0M584.3 806.5h0M587.8 779h0M591.4 791.7h0M594.9 799.3h0M598.4 781.7h0M601.9 787.8h0M605.5 787h0M609 794.5h0M612.5 780.7h0M616 798.8h0M619.6 790.1h0M623.1 786.9h0M626.6 802.7h0M630.1 799.5h0M633.7 812.4h0M637.2 794.7h0M640.7 814h0M644.2 816.2h0M647.8 805.2h0M651.3 784.3h0M654.8 797.3h0M658.4 788.4h0M661.9 789.3h0M665.4 790h0M668.9 789.9h0M672.5 808.7h0M676 799.4h0M679.5 779.6h0M683 785.4h0M686.6 776.9h0M690.1 803h0M693.6 810.3h0M697.1 805.7h0M700.7 779.9h0M704.2 773.7h0M707.7 778.3h0M711.2 772.2h0M714.8 782.6h0M718.3 754.2h0M721.8 786.3h0M725.3 796.7h0M728.9 776.9h0M732.4 773.2h0M735.9 786.4h0M739.4 801.6h0M743 788.5h0M746.5 794.3h0M750 787h0M753.6 796.9h0M757.1 790.2h0M760.6 789.1h0M764.1 793.9h0M767.7 776.8h0M771.2 790.1h0M774.7 762.2h0M778.2 783.1h0M781.8 775.8h0M785.3 775.3h0M788.8 783.2h0M792.3 792.3h0M795.9 775.8h0M799.4 805.5h0M802.9 802.9h0M806.4 775.3h0M810 765.9h0M813.5 766.2h0M817 797.2h0M820.5 787.3h0M824.1 759.5h0M827.6 762.5h0M831.1 767.3h0M834.7 771.7h0M838.2 774.8h0M841.7 772.4h0M845.2 785.5h0M848.8 764.6h0M852.3 774.2h0M855.8 770.4h0M859.3 784.8h0M862.9 777.3h0M866.4 772.7h0M869.9 765.5h0M873.4 763.7h0M877 780.2h0M880.5 784.1h0M884 807.7h0M887.5 798.4h0M891.1 796.3h0M894.6 783h0M898.1 783h0M901.6 780.8h0M905.2 777.7h0M908.7 773.7h0M912.2 794.8h0M915.7 763.4h0M919.3 754.4h0M922.8 753.5h0M926.3 759.8h0M929.9 767h0M933.4 771h0M936.9 773.2h0M940.4 763.1h0M944 761.3h0M947.5 775.7h0M951 770.3h0M954.5 778h0M958.1 798.1h0M961.6 803.3h0M965.1 787.3h0M968.6 777.7h0M972.2 761.3h0M975.7 775h0M979.2 791.6h0M982.7 780.6h0M986.3 782.3h0M989.8 782.1h0M993.3 762.2h0M996.8 766.4h0M1000.4 775.6h0M1003.9 762.4h0M1007.4 764.6h0M1011 779.6h0M1014.5 783.3h0M1018 804.9h0M1021.5 817.1h0M1025.1 798.8h0M1028.6 781.5h0M1032.1 778.2h0M1035.6 794.4h0M1039.2 802.7h0M1042.7 804.6h0M1046.2 809.4h0M1049.7 805.2h0M1053.3 802.5h0M1056.8 804.7h0M1060.3 811.1h0M1063.8 801.6h0M1067.4 808.4h0M1070.9 795.7h0M1074.4 823.2h0M1077.9 814.9h0M1081.5 825.5h0M1085 828.2h0M1088.5 829h0M1092 810.6h0M1095.6 807.5h0M1099.1 809.5h0M1102.6 809.5h0M1106.2 810.7h0M1109.7 805.6h0M1113.2 812.9h0M1116.7 819.8h0M1120.3 830.3h0M1123.8 802.4h0M1127.3 788.5h0M1130.8 793.8h0M1134.4 788.5h0M1137.9 809.6h0M1141.4 801.7h0M1144.9 800h0M1148.5 813h0M1152 812h0M1155.5 815.5h0M1159 840.4h0M1162.6 847.7h0M1166.1 841.3h0M1169.6 829.1h0M1173.1 818.9h0M1176.7 819.3h0M1180.2 830.5h0M1183.7 839.2h0M1187.3 833.6h0M1190.8 829.2h0M1194.3 816.8h0M1197.8 840.7h0M1201.4 844.7h0M1204.9 843h0M1208.4 827.6h0M1211.9 839.4h0M1215.5 820.6h0M1219 827h0M1222.5 820.8h0M1226 853.5h0M1229.6 848.3h0M1233.1 854.1h0M1236.6 859h0M1240.1 845.7h0M1243.7 849h0M1247.2 847.6h0M1250.7 840.3h0M1254.2 871.6h0M1257.8 863h0M1261.3 841.4h0M1264.8 837.3h0M1268.4 846.1h0M1271.9 833.2h0M1275.4 833.1h0M1278.9 849.1h0M1282.5 853.3h0M1286 843.9h0M1289.5 857.5h0M1293 856.3h0M1296.6 843.1h0M1300.1 852.1h0M1303.6 870.9h0M1307.1 854.2h0M1310.7 881.1h0M1314.2 873.5h0M1317.7 850.5h0M1321.2 833.1h0M1324.8 842.5h0M1328.3 868.9h0M1331.8 866.9h0M1335.3 859h0M1338.9 849.1h0M1342.4 849h0M1345.9 849.4h0M1349.4 849.7h0M1353 850h0M1356.5 845.3h0M1360 844h0M1363.6 844.4h0M1367.1 846.5h0M1370.6 847.1h0M1374.1 849.5h0M1377.7 860.5h0M1381.2 846.6h0M1384.7 852.2h0M1388.2 850.1h0M1391.8 854.1h0M1395.3 851.8h0M1398.8 838.6h0M1402.3 857.2h0M1405.9 835.9h0M1409.4 851h0M129.4 872.2h0M323.3 868h0M242.2 882.6h0M355 863.7h0M411.5 860.2h0M633.3 702.5h0M580.4 833.1h0M622.8 816.7h0M859 669.6h0M802.9 795.5h0M866.5 788h0M978.7 801.7h0M1056.9 827.2h0M1201.7 863.7h0M1314.3 875.5h0M1396 873.2h0M1339 872h0M1223 866.1h0" stroke="#00ff00" stroke-width="13.2" stroke-linecap="round" fill="none"/>
<path d="M125.9 833.3h0M129.5 843.5h0M133 830h0M136.5 859.1h0M140 866.7h0M143.6 852.9h0M147.1 855h0M150.6 837.3h0M154.1 859.1h0M157.7 837.8h0M161.2 842.2h0M164.7 846.3h0M168.2 848.4h0M171.8 867h0M175.3 840.2h0M178.8 849.6h0M182.3 844.7h0M185.9 861.8h0M189.4 838.5h0M192.9 831.3h0M196.4 854.1h0M200 845.4h0M203.5 848.4h0M207 852.2h0M210.6 849.6h0M214.1 842h0M217.6 846.3h0M221.1 813.7h0M224.7 818.3h0M228.2 841.5h0M231.7 834.4h0M235.2 857.3h0M238.8 832.3h0M242.3 830.3h0M245.8 844.5h0M249.3 840.2h0M252.9 865.4h0M256.4 836.5h0M259.9 840.2h0M263.4 833.1h0M267 844.1h0M270.5 857.8h0M274 854.4h0M277.5 839.3h0M281.1 845.3h0M284.6 843.1h0M288.1 840.9h0M291.6 827.8h0M295.2 833.4h0M298.7 826.1h0M302.2 831.1h0M305.8 845h0M309.3 836.5h0M312.8 839.3h0M316.3 841.6h0M319.9 850.1h0M323.4 851.8h0M326.9 826.5h0M330.4 827.5h0M334 820.3h0M337.5 820.7h0M341 817.7h0M344.5 809h0M348.1 827.5h0M351.6 822.8h0M355.1 806.9h0M358.6 815.5h0M362.2 807.6h0M365.7 811.7h0M369.2 811h0M372.7 807.2h0M376.3 820.5h0M379.8 817.7h0M383.3 809.3h0M386.9 817.3h0M390.4 806.5h0M393.9 799.3h0M397.4 796.1h0M401 812.3h0M404.5 807h0M408 818h0M411.5 798.8h0M415.1 792.9h0M418.6 797.6h0M422.1 811.6h0M425.6 793.9h0M429.2 803.7h0M432.7 808h0M436.2 814.6h0M439.7 807.5h0M443.3 805.8h0M446.8 791.9h0M450.3 779.7h0M453.8 787.5h0M457.4 791.9h0M460.9 785.4h0M464.4 799.9h0M467.9 793.6h0M471.5 789.4h0M475 799.1h0M478.5 790.1h0M482.1 787h0M485.6 807.9h0M489.1 803.4h0M492.6 805.8h0M496.2 799h0M499.7 796.2h0M503.2 798.4h0M506.7 808.1h0M510.3 799.5h0M513.8 796.3h0M517.3 777h0M520.8 788.8h0M524.4 798.9h0M527.9 814.9h0M531.4 792.4h0M534.9 784h0M538.5 766.9h0M542 772.4h0M545.5 792.1h0M549 810.3h0M552.6 781.8h0M556.1 771.6h0M559.6 763h0M563.1 785.3h0M566.7 781.7h0M570.2 768.8h0M573.7 773.9h0M577.3 754h0M580.8 751.3h0M584.3 748.4h0M587.8 759.7h0M591.4 758.2h0M594.9 775.7h0M598.4 787.9h0M601.9 779.6h0M605.5 772.4h0M609 782.8h0M612.5 774.8h0M616 789.5h0M619.6 775.9h0M623.1 756.1h0M626.6 740h0M630.1 762.5h0M633.7 757.8h0M637.2 753h0M640.7 754h0M644.2 757.2h0M647.8 770.1h0M651.3 776.8h0M654.8 791.4h0M658.4 774.5h0M661.9 772.1h0M665.4 767.7h0M668.9 771.1h0M672.5 779h0M676 793.4h0M679.5 775.6h0M683 765.1h0M686.6 765.9h0M690.1 767.4h0M693.6 758.8h0M697.1 764.9h0M700.7 773.1h0M704.2 767.7h0M707.7 750.9h0M711.2 749.9h0M714.8 768.7h0M718.3 770.2h0M721.8 767.4h0M725.3 759.2h0M728.9 767.6h0M732.4 754.1h0M735.9 756.4h0M739.4 751.4h0M743 770.3h0M746.5 739.2h0M750 746.8h0M753.6 768.9h0M757.1 762.6h0M760.6 752.8h0M764.1 724.5h0M767.7 746.3h0M771.2 747.5h0M774.7 734.7h0M778.2 759h0M781.8 748.2h0M785.3 745.3h0M788.8 735h0M792.3 754.1h0M795.9 754.4h0M799.4 737h0M802.9 747.5h0M806.4 748.5h0M810 750.7h0M813.5 747.6h0M817 728.7h0M820.5 730.8h0M824.1 747.8h0M827.6 746h0M831.1 744.8h0M834.7 722.7h0M838.2 737h0M841.7 724.2h0M845.2 756h0M848.8 739.6h0M852.3 728.8h0M855.8 752.3h0M859.3 761.8h0M862.9 766.2h0M866.4 764.5h0M869.9 749.3h0M873.4 756.7h0M877 742.5h0M880.5 748.4h0M884 721.8h0M887.5 747.5h0M891.1 739.9h0M894.6 726.7h0M898.1 743h0M901.6 744.1h0M905.2 725h0M908.7 722.2h0M912.2 725.8h0M915.7 730.9h0M919.3 731.8h0M922.8 727.9h0M926.3 743.6h0M929.9 738h0M933.4 742.4h0M936.9 741.4h0M940.4 747.5h0M944 742.5h0M947.5 755.9h0M951 740.4h0M954.5 748.9h0M958.1 767.8h0M961.6 760.4h0M965.1 772.3h0M968.6 780.5h0M972.2 775.7h0M975.7 775.4h0M979.2 777.3h0M982.7 766.4h0M986.3 758.1h0M989.8 780.6h0M993.3 781.4h0M996.8 771.7h0M1000.4 744.8h0M1003.9 745.4h0M1007.4 732.2h0M1011 743.9h0M1014.5 737h0M1018 752.6h0M1021.5 774.3h0M1025.1 782h0M1028.6 768h0M1032.1 770.2h0M1035.6 776h0M1039.2 771.9h0M1042.7 773.2h0M1046.2 792.5h0M1049.7 776.9h0M1053.3 764h0M1056.8 760.6h0M1060.3 767h0M1063.8 771.1h0M1067.4 777.6h0M1070.9 801.4h0M1074.4 776.5h0M1077.9 790.6h0M1081.5 801h0M1085 792.3h0M1088.5 792.2h0M1092 777.6h0M1095.6 785.1h0M1099.1 783h0M1102.6 810.5h0M1106.2 791.7h0M1109.7 800.9h0M1113.2 807.3h0M1116.7 814.2h0M1120.3 813.5h0M1123.8 812.1h0M1127.3 793.7h0M1130.8 772.9h0M1134.4 785h0M1137.9 798.9h0M1141.4 799.9h0M1144.9 819h0M1148.5 820.7h0M1152 833h0M1155.5 825.8h0M1159 810h0M1162.6 819.2h0M1166.1 812.2h0M1169.6 828.9h0M1173.1 827.1h0M1176.7 826.3h0M1180.2 836.8h0M1183.7 837.3h0M1187.3 816.9h0M1190.8 827.5h0M1194.3 831.3h0M1197.8 816.5h0M1201.4 813.7h0M1204.9 801.2h0M1208.4 818.8h0M1211.9 818.2h0M1215.5 841h0M1219 843.1h0M1222.5 836.4h0M1226 835.7h0M1229.6 845.7h0M1233.1 849.6h0M1236.6 857.9h0M1240.1 855.2h0M1243.7 868.7h0M1247.2 856.1h0M1250.7 860.4h0M1254.2 846.1h0M1257.8 848.6h0M1261.3 841.7h0M1264.8 849.1h0M1268.4 852.4h0M1271.9 849.1h0M1275.4 847.1h0M1278.9 819.8h0M1282.5 825.1h0M1286 846h0M1289.5 830h0M1293 829.5h0M1296.6 826.2h0M1300.1 815.4h0M1303.6 823.9h0M1307.1 836.3h0M1310.7 825.7h0M1314.2 825.9h0M1317.7 838.2h0M1321.2 842.4h0M1324.8 842.4h0M1328.3 863.2h0M1331.8 867.6h0M1335.3 869.5h0M1338.9 858.7h0M1342.4 871.7h0M1345.9 855.9h0M1349.4 849.7h0M1353 851.4h0M1356.5 833.1h0M1360 840.3h0M1363.6 838.8h0M1367.1 835.8h0M1370.6 839.5h0M1374.1 832.2h0M1377.7 820.5h0M1381.2 848.1h0M1384.7 858.2h0M1388.2 834.7h0M1391.8 828.5h0M1395.3 827.9h0M1398.8 832.4h0M1402.3 848.3h0M1405.9 841.2h0M1409.4 835.5h0M185.5 769.3h0M334.1 800.5h0M298.3 862.2h0M429.4 763h0M379.2 796.6h0M355 850.8h0M524 825.6h0M411.5 844.9h0M602 651.8h0M633.3 658.4h0M718.1 700.8h0M567.4 819h0M862.8 611.7h0M859 661.6h0M975.5 720.7h0M1145.2 836.7h0M1025.1 718.9h0M1304.2 789.6h0M1300.2 798.3h0" stroke="#0000ff" stroke-width="13.2" stroke-linecap="round" fill="none"/>
<path d="M125.9 846.8h0M129.5 848.4h0M133 844.8h0M136.5 860.2h0M140 849.9h0M143.6 853.5h0M147.1 852h0M150.6 858.2h0M154.1 857h0M157.7 859.2h0M161.2 850.8h0M164.7 825.5h0M168.2 837.3h0M171.8 834.4h0M175.3 836.3h0M178.8 847.1h0M182.3 838.2h0M185.9 835.8h0M189.4 836h0M192.9 846.2h0M196.4 866.1h0M200 862.6h0M203.5 856.3h0M207 844.9h0M210.6 840.2h0M214.1 836.4h0M217.6 840.2h0M221.1 851.4h0M224.7 825.3h0M228.2 812.5h0M231.7 827.4h0M235.2 854h0M238.8 841h0M242.3 819.9h0M245.8 829h0M249.3 833.4h0M252.9 843.7h0M256.4 838.5h0M259.9 841.2h0M263.4 861.1h0M267 845.6h0M270.5 841h0M274 840.4h0M277.5 850.1h0M281.1 846.9h0M284.6 837.5h0M288.1 827.2h0M291.6 839.6h0M295.2 822.7h0M298.7 837.5h0M302.2 818.5h0M305.8 815.3h0M309.3 842.5h0M312.8 830.8h0M316.3 830.5h0M319.9 821.3h0M323.4 808.4h0M326.9 819.8h0M330.4 817.1h0M334 811h0M337.5 829.9h0M341 814.8h0M344.5 814.8h0M348.1 809.7h0M351.6 799.1h0M355.1 810.7h0M358.6 838.5h0M362.2 819.2h0M365.7 817.5h0M369.2 810.4h0M372.7 817.5h0M376.3 809.9h0M379.8 832.9h0M383.3 807.9h0M386.9 795h0M390.4 808.1h0M393.9 794h0M397.4 783.3h0M401 786.5h0M404.5 795.1h0M408 796.6h0M411.5 789.7h0M415.1 790.6h0M418.6 798.4h0M422.1 804.2h0M425.6 815.4h0M429.2 814.9h0M432.7 804.7h0M436.2 809.6h0M439.7 804.2h0M443.3 792.7h0M446.8 796.6h0M450.3 792.4h0M453.8 811.2h0M457.4 804.6h0M460.9 820.9h0M464.4 799.4h0M467.9 794.7h0M471.5 814.3h0M475 800.7h0M478.5 796.9h0M482.1 781h0M485.6 785.3h0M489.1 772.2h0M492.6 792.2h0M496.2 772.1h0M499.7 779.9h0M503.2 803h0M506.7 799.7h0M510.3 811.5h0M513.8 817.3h0M517.3 812.4h0M520.8 808.6h0M524.4 802.3h0M527.9 806.7h0M531.4 781h0M534.9 778.2h0M538.5 788.5h0M542 772.1h0M545.5 765.5h0M549 793.2h0M552.6 798.7h0M556.1 799.9h0M559.6 808.7h0M563.1 816h0M566.7 806.6h0M570.2 780.2h0M573.7 800.9h0M577.3 811.4h0M580.8 804.8h0M584.3 808.8h0M587.8 817.7h0M591.4 791.5h0M594.9 762.8h0M598.4 784.6h0M601.9 800.3h0M605.5 777.4h0M609 782.6h0M612.5 771.3h0M616 782.7h0M619.6 781.8h0M623.1 799.2h0M626.6 789.7h0M630.1 797.1h0M633.7 799.2h0M637.2 787.1h0M640.7 815h0M644.2 807h0M647.8 788.5h0M651.3 795.2h0M654.8 777.6h0M658.4 777.6h0M661.9 755h0M665.4 742.8h0M668.9 760.6h0M672.5 756.5h0M676 761.6h0M679.5 766.9h0M683 772.7h0M686.6 779.2h0M690.1 792.5h0M693.6 756.7h0M697.1 775.2h0M700.7 761.2h0M704.2 747.6h0M707.7 757.5h0M711.2 758.3h0M714.8 759.5h0M718.3 804h0M721.8 771h0M725.3 732.9h0M728.9 736.6h0M732.4 760.4h0M735.9 759.9h0M739.4 793.4h0M743 759.6h0M746.5 780.6h0M750 770.2h0M753.6 782h0M757.1 775.2h0M760.6 798.9h0M764.1 770.5h0M767.7 772.4h0M771.2 763.8h0M774.7 774.3h0M778.2 773h0M781.8 774h0M785.3 760.7h0M788.8 755.7h0M792.3 767.7h0M795.9 767.1h0M799.4 784h0M802.9 766.6h0M806.4 767.9h0M810 776h0M813.5 783.6h0M817 785.6h0M820.5 754h0M824.1 721h0M827.6 732.4h0M831.1 747h0M834.7 734.6h0M838.2 773.1h0M841.7 759.3h0M845.2 753.3h0M848.8 758.4h0M852.3 736.1h0M855.8 739h0M859.3 728.4h0M862.9 734.5h0M866.4 749.4h0M869.9 733.2h0M873.4 740.8h0M877 747h0M880.5 752.3h0M884 751.9h0M887.5 764.9h0M891.1 771.5h0M894.6 778.3h0M898.1 764.1h0M901.6 748.1h0M905.2 750.8h0M908.7 738.3h0M912.2 748.5h0M915.7 734h0M919.3 737.2h0M922.8 749h0M926.3 736.1h0M929.9 732.6h0M933.4 756.8h0M936.9 772.4h0M940.4 755.4h0M944 758.7h0M947.5 744.8h0M951 742.9h0M954.5 766.1h0M958.1 786.7h0M961.6 755.7h0M965.1 755h0M968.6 771.6h0M972.2 783.6h0M975.7 777.4h0M979.2 795.8h0M982.7 799.6h0M986.3 761.6h0M989.8 779.7h0M993.3 773.7h0M996.8 787.1h0M1000.4 787.8h0M1003.9 778.6h0M1007.4 775h0M1011 767h0M1014.5 768.9h0M1018 745.3h0M1021.5 758.9h0M1025.1 780.6h0M1028.6 775.4h0M1032.1 741h0M1035.6 767.2h0M1039.2 755.1h0M1042.7 767.3h0M1046.2 776.4h0M1049.7 784h0M1053.3 783.5h0M1056.8 802.2h0M1060.3 814.8h0M1063.8 801h0M1067.4 797.6h0M1070.9 808.5h0M1074.4 821.3h0M1077.9 815.7h0M1081.5 803.5h0M1085 781.3h0M1088.5 779.5h0M1092 790.2h0M1095.6 795.8h0M1099.1 802.4h0M1102.6 810.3h0M1106.2 816.9h0M1109.7 812.3h0M1113.2 813.7h0M1116.7 815.5h0M1120.3 819.8h0M1123.8 837.3h0M1127.3 807.8h0M1130.8 819.4h0M1134.4 822.9h0M1137.9 828.7h0M1141.4 808.2h0M1144.9 823.8h0M1148.5 813.6h0M1152 815.6h0M1155.5 808.1h0M1159 786.2h0M1162.6 799.3h0M1166.1 783h0M1169.6 788.2h0M1173.1 783.2h0M1176.7 786.2h0M1180.2 791.8h0M1183.7 799.6h0M1187.3 837.8h0M1190.8 836.2h0M1194.3 825.2h0M1197.8 806.3h0M1201.4 829.9h0M1204.9 861.1h0M1208.4 846.2h0M1211.9 845.3h0M1215.5 835.5h0M1219 853h0M1222.5 843h0M1226 831h0M1229.6 826.7h0M1233.1 842.1h0M1236.6 847.9h0M1240.1 858.8h0M1243.7 852.9h0M1247.2 838.4h0M1250.7 838.4h0M1254.2 858.7h0M1257.8 865h0M1261.3 875.7h0M1264.8 862.3h0M1268.4 857.6h0M1271.9 848.3h0M1275.4 847h0M1278.9 848.6h0M1282.5 861h0M1286 861.8h0M1289.5 844.9h0M1293 817.8h0M1296.6 857.8h0M1300.1 880h0M1303.6 849.6h0M1307.1 832h0M1310.7 829h0M1314.2 844.8h0M1317.7 846.3h0M1321.2 855.3h0M1324.8 852.2h0M1328.3 869h0M1331.8 853.9h0M1335.3 841.7h0M1338.9 845.3h0M1342.4 864.6h0M1345.9 862.5h0M1349.4 875.1h0M1353 865.3h0M1356.5 882.4h0M1360 852.8h0M1363.6 854.1h0M1367.1 873.6h0M1370.6 861.3h0M1374.1 848.1h0M1377.7 852.5h0M1381.2 841.7h0M1384.7 835.8h0M1388.2 842.1h0M1391.8 825.5h0M1395.3 830.8h0M1398.8 834.2h0M1402.3 839.3h0M1405.9 845.5h0M1409.4 833.9h0M129.4 885.7h0M242.2 885.7h0M298.3 876.3h0M266.5 873.2h0M185.5 869.7h0M150.2 804.6h0M161.2 809.8h0M228.1 807.3h0M355 870.3h0M411.5 856.7h0M509.9 720.1h0M524 834.3h0M492.2 827.2h0M436.4 829.6h0M640.4 692.3h0M580.4 837.4h0M622.8 808.4h0M859 699.5h0M940.6 699h0M802.9 784.3h0M982.4 790.5h0M1032.1 814.3h0M1088.7 839h0M1145.2 843.7h0M1202.9 848.4h0M1025.1 733.1h0M1356.5 797.8h0M1300.2 812.4h0M1314.3 879h0M1396 863.7h0M1370.6 862.6h0M1223 860.2h0" stroke="#00ffff" stroke-width="13.2" stroke-linecap="round" fill="none"/>
<path d="M122.4 491.8V916.2H1427M228.2 916.2v-13.5M334 916.2v-13.5M439.7 916.2v-13.5M545.5 916.2v-13.5M651.3 916.2v-13.5M757.1 916.2v-13.5M862.9 916.2v-13.5M968.6 916.2v-13.5M1074.4 916.2v-13.5M1180.2 916.2v-13.5M1286 916.2v-13.5M1391.8 916.2v-13.5M122.4 916.2h13.5M122.4 788.9h13.5M122.4 661.6h13.5M122.4 534.2h13.5M122.4 491.8h13.5" stroke="#6a6a6a" stroke-width="2.5" fill="none"/>
<g transform="translate(109.8 928.4) scale(1 1.07)"><text text-anchor="end" class="tk">0</text></g>
<g transform="translate(109.8 801.1) scale(1 1.07)"><text text-anchor="end" class="tk">3</text></g>
<g transform="translate(109.8 673.8) scale(1 1.07)"><text text-anchor="end" class="tk">6</text></g>
<g transform="translate(109.8 546.4) scale(1 1.07)"><text text-anchor="end" class="tk">9</text></g>
<text transform="translate(44.3 706.6) rotate(-90)" text-anchor="middle" class="lb">STD (mm)</text>
<path d="M231.1 927.8V1347.6M336.9 927.8V1347.6M442.6 927.8V1347.6M548.4 927.8V1347.6M654.2 927.8V1347.6M760 927.8V1347.6M865.8 927.8V1347.6M971.5 927.8V1347.6M1077.3 927.8V1347.6M1183.1 927.8V1347.6M1288.9 927.8V1347.6M1394.7 927.8V1347.6" stroke="#262626" stroke-opacity="0.11" stroke-width="1.8" fill="none"/>
<path d="M125.3 1347.6H1429.9M125.3 1233.1H1429.9M125.3 1118.7H1429.9M125.3 1004.2H1429.9" stroke="#262626" stroke-opacity="0.11" stroke-width="1.8" fill="none"/>
<path d="M149.6 1065.3h0M163.7 1081.6h0M160.6 1115.8h0M230.8 1108.6h0M262.4 1107.5h0M265.9 1113.1h0M272.8 1136.2h0M297.7 1128.9h0M216.7 1155.3h0M138.8 1164.7h0M153.3 1164.2h0M192.2 1174h0M241.2 1172.5h0M142.9 1190.6h0M178.2 1197.5h0M195.3 1191.2h0M199 1196.9h0M224 1182.9h0M227.5 1187.5h0M234.3 1185.8h0M258.9 1187.5h0M255.1 1197.9h0M252 1204.1h0M276.9 1183.4h0M284.2 1187.9h0M290.4 1192.7h0M294.6 1175.5h0M305 1180.2h0M309.1 1173h0M313.3 1174.6h0M318.9 1166.3h0M315.4 1193.7h0M135.7 1208.3h0M128.4 1219.7h0M146 1223.2h0M167.9 1212.4h0M171.6 1208.3h0M174.5 1214.5h0M184.9 1226.4h0M209.4 1212.4h0M220.2 1212.4h0M300.8 1217.6h0M269.2 1232.2h0M280.1 1228h0M241.6 1233.2h0M247.8 1224.9h0M244.7 1229.5h0M238.5 1237.4h0M181.4 1240.5h0M188.6 1242.6h0M202.1 1238.4h0M206.3 1235.3h0M213.2 1249.8h0M325.8 1249.8h0M323.7 1256.1h0M328.9 1213.5h0M334.1 1200h0M336.1 1171.9h0M156.4 1245.7h0M512.7 1049h0M530.6 1106.4h0M544.7 1109.5h0M523.5 1120.6h0M519.3 1127.1h0M509.4 1130.7h0M516.5 1135.4h0M526.4 1141.3h0M537.7 1142.9h0M548.3 1149.5h0M502.4 1151.2h0M533.4 1163.6h0M541.7 1163.6h0M551.1 1174.2h0M556.5 1190.7h0M343.9 1136.1h0M351 1136.1h0M341.5 1171.4h0M403.9 1154.2h0M406.8 1162h0M393.3 1177.1h0M399.9 1177.1h0M421.6 1168.4h0M428.7 1175.4h0M434.5 1181.3h0M439.2 1186.5h0M425.1 1188.4h0M431.7 1188.4h0M443.5 1153h0M449.1 1144.1h0M445.8 1156.6h0M455.7 1169.1h0M466.3 1171.4h0M452.9 1178.5h0M475.7 1147.2h0M477.6 1143.6h0M481.2 1174.2h0M488.7 1187.9h0M463.3 1191.9h0M471 1188.4h0M498.1 1176.1h0M504 1171.9h0M484 1201.3h0M494.6 1200.8h0M386.3 1196.6h0M364.4 1199.7h0M361.1 1204.9h0M347.4 1210.7h0M354.5 1214.7h0M371.7 1211.9h0M418.1 1201.3h0M413.8 1214.7h0M389.8 1219h0M382.3 1222.5h0M396.9 1224.9h0M368.1 1229.6h0M375.7 1231.9h0M411 1228.4h0M358 1236.6h0M639.7 1064.8h0M643.2 1093h0M685.1 1057.2h0M702.8 1068.8h0M724.5 1051.3h0M756.3 1057h0M773.4 1050.6h0M734.6 1077.7h0M731.1 1089.5h0M749.2 1088.3h0M727.5 1098.4h0M741.7 1098.9h0M746.4 1100.8h0M760 1101.2h0M767.1 1076.5h0M777 1063.6h0M709.9 1098.4h0M713.9 1103.6h0M699.3 1106h0M692.2 1108.3h0M681.6 1113h0M671 1116.6h0M675 1121.3h0M716.9 1118.9h0M763.3 1117.7h0M769.9 1133h0M775.8 1124.8h0M706.3 1135.4h0M688.7 1146h0M738.1 1150.2h0M752.3 1142.5h0M720.5 1154.2h0M565.5 1118.2h0M603.9 1106h0M614.5 1106h0M622 1102.9h0M611.7 1118.9h0M647.5 1122.4h0M572.6 1146.7h0M590.5 1145.5h0M601.6 1146.5h0M635.7 1141.3h0M628.2 1151.9h0M649.8 1147.2h0M654.5 1143.6h0M667.5 1154.2h0M678.6 1162.5h0M695.7 1160.6h0M596.9 1161.3h0M593.8 1169.5h0M576.4 1168.4h0M606.7 1173.1h0M619.7 1173.1h0M626.3 1187.7h0M561.5 1177.1h0M661.6 1173.1h0M656.9 1183.7h0M587.4 1193.1h0M581.5 1210.3h0M580.4 1222.5h0M568.6 1200.1h0M840.8 949.2h0M854.8 963.7h0M822.9 976.9h0M837.1 988.6h0M848.3 988.6h0M886.5 987.3h0M903.9 986.8h0M960.7 996.8h0M862.3 1006h0M872.2 1009.8h0M829.9 1021h0M858.3 1020.3h0M918.4 1011.5h0M897.2 1020.5h0M893.2 1034.2h0M907.6 1033h0M914.6 1047.2h0M953.8 1023.5h0M943 1033.5h0M950 1042.7h0M936.3 1045.9h0M928.8 1051.7h0M964.2 1056.7h0M978.2 1066.4h0M992.4 1078.3h0M996.2 1077.1h0M911.4 1070.4h0M932.6 1071.6h0M879 1061.6h0M900.2 1087.6h0M833.3 1061.6h0M851.5 1061.6h0M844.1 1072.6h0M781.7 1064.6h0M780.5 1050.9h0M791.7 1047.2h0M795 1058.4h0M805.9 1048.4h0M816.6 1049.7h0M801.7 1076.3h0M819.6 1079.1h0M798.7 1090.8h0M812.9 1095h0M826.6 1093.3h0M809.2 1119.5h0M779.2 1124.5h0M788 1129.5h0M869 1092.6h0M882.7 1093.3h0M865.3 1105.8h0M876.5 1105.8h0M890.2 1105.8h0M957 1091.6h0M967.5 1095.8h0M971.2 1102h0M984.9 1098.3h0M994.9 1098.3h0M925.1 1121.2h0M939.6 1120.7h0M946.8 1113.7h0M974.5 1118.7h0M988.7 1115.2h0M981.9 1134.4h0M921.9 1139.9h0M1006.2 1062.4h0M1013.3 1057.7h0M1021.1 1056h0M1028.1 1058.4h0M1017.3 1072.5h0M1001.5 1077.7h0M1009.8 1083.6h0M1048.6 1095.4h0M1041.6 1106.4h0M1031 1115.4h0M1080.4 1116.1h0M1094.5 1122.9h0M1105.1 1114.7h0M1087.5 1073.5h0M1098.1 1073.5h0M1101.6 1089h0M1112.9 1088.3h0M1120 1092.5h0M1144 1069h0M1158.1 1114.9h0M1175.8 1120.6h0M1133.4 1122h0M1129.9 1128.3h0M1154.6 1131.9h0M1122.8 1143.2h0M1126.3 1153.5h0M1168.7 1144.8h0M1162.8 1155.4h0M1179.3 1153.5h0M1184 1152.6h0M1136.9 1173.8h0M1140.5 1191.9h0M1151 1186h0M1147.5 1192.6h0M1172.2 1200.1h0M1186.4 1184.1h0M1197 1195.4h0M1207.6 1199.7h0M1200.5 1171.9h0M1211.1 1166.7h0M1215.8 1174.2h0M1193.4 1211.9h0M1189.9 1223.7h0M1204 1228.4h0M1217 1202.5h0M1034.5 1149.5h0M1038 1137.7h0M1045.1 1136.1h0M1055.7 1143.6h0M1059.2 1155.4h0M1066.3 1151.9h0M1073.3 1140.8h0M1083.9 1137h0M1076.9 1157.3h0M1091 1158.9h0M1052.2 1167.6h0M1066.3 1173.8h0M1257.1 1070.6h0M1280.6 1122.4h0M1292.4 1122h0M1288.9 1131.4h0M1239.4 1137.3h0M1302.5 1151.4h0M1272.4 1162.5h0M1278.3 1160.8h0M1232.4 1180.1h0M1237.1 1180.1h0M1243 1183.7h0M1253.6 1192.6h0M1260.2 1185.3h0M1221.8 1202.5h0M1267.7 1202.5h0M1250 1208.4h0M1246.5 1220.2h0M1263.7 1219.4h0M1293.6 1206h0M1299.5 1205.3h0M1306.5 1203.7h0M1320.2 1187.9h0M1225.3 1236.6h0M1228.8 1247.2h0M1358.8 1148.3h0M1387.3 1138.5h0M1355.3 1174.2h0M1369.6 1169.5h0M1383.8 1170.2h0M1348.5 1186h0M1365.9 1182.5h0M1376.7 1192.6h0M1390.8 1185.5h0M1394.1 1197.3h0M1362.6 1205.3h0M1380 1205.3h0M1405 1209.1h0M1401.2 1214.7h0M1344.7 1224.2h0M1352.5 1219h0M1373.2 1227.2h0M1334.3 1237.3h0M1339 1243h0M1331.3 1251.5h0M1326.6 1261.4h0M1318.3 1256.2h0M1313.6 1267.2h0M1341.4 1259.7h0M1407.8 1245.3h0M1412 1251.5h0M1285.3 1254.8h0" stroke="#ff0000" stroke-width="13.2" stroke-linecap="round" fill="none"/>
<path d="M128.8 1288.4h0M132.4 1286.4h0M135.9 1275.9h0M139.4 1275.2h0M142.9 1290.8h0M146.5 1290.4h0M150 1289.4h0M153.5 1289h0M157 1289h0M160.6 1291h0M164.1 1286.5h0M167.6 1282.7h0M171.1 1287.7h0M174.7 1283.9h0M178.2 1279.5h0M181.7 1281h0M185.2 1287.1h0M188.8 1291.1h0M192.3 1286h0M195.8 1274.3h0M199.3 1286.7h0M202.9 1271.4h0M206.4 1274.8h0M209.9 1283.5h0M213.4 1280.5h0M217 1269.2h0M220.5 1286.3h0M224 1293.2h0M227.6 1273.4h0M231.1 1280.5h0M234.6 1277.1h0M238.1 1286.5h0M241.7 1284.4h0M245.2 1292.8h0M248.7 1288.2h0M252.2 1281.5h0M255.8 1280.9h0M259.3 1287.1h0M262.8 1282.9h0M266.3 1277.4h0M269.9 1273.9h0M273.4 1276.6h0M276.9 1281.5h0M280.4 1296.8h0M284 1281.3h0M287.5 1283.5h0M291 1275.2h0M294.5 1288.8h0M298.1 1276.5h0M301.6 1290.7h0M305.1 1284.1h0M308.7 1269.1h0M312.2 1275.3h0M315.7 1270.8h0M319.2 1269.4h0M322.8 1274.6h0M326.3 1277.2h0M329.8 1273.7h0M333.3 1280.5h0M336.9 1270.8h0M340.4 1288.1h0M343.9 1281h0M347.4 1282.6h0M351 1265.9h0M354.5 1266.3h0M358 1257.6h0M361.5 1264.1h0M365.1 1269.7h0M368.6 1274.4h0M372.1 1281.5h0M375.6 1281.8h0M379.2 1263.8h0M382.7 1253.6h0M386.2 1249.7h0M389.8 1261.2h0M393.3 1250.7h0M396.8 1266.9h0M400.3 1264h0M403.9 1264.3h0M407.4 1257.1h0M410.9 1250.2h0M414.4 1238.6h0M418 1245.9h0M421.5 1255.5h0M425 1253.7h0M428.5 1248.7h0M432.1 1238.9h0M435.6 1241.7h0M439.1 1248.2h0M442.6 1262.9h0M446.2 1266.9h0M449.7 1262.1h0M453.2 1267.1h0M456.7 1249.8h0M460.3 1246.3h0M463.8 1247.5h0M467.3 1239.4h0M470.8 1247.3h0M474.4 1259.1h0M477.9 1252.5h0M481.4 1252.6h0M485 1247.6h0M488.5 1249.5h0M492 1248h0M495.5 1255.8h0M499.1 1242.8h0M502.6 1239.2h0M506.1 1243.2h0M509.6 1239h0M513.2 1248h0M516.7 1237.9h0M520.2 1229.9h0M523.7 1226.5h0M527.3 1219.2h0M530.8 1219.9h0M534.3 1216.9h0M537.8 1229.4h0M541.4 1224.8h0M544.9 1232.3h0M548.4 1252.7h0M551.9 1245.4h0M555.5 1246h0M559 1243.5h0M562.5 1229.8h0M566 1222.5h0M569.6 1235h0M573.1 1226.8h0M576.6 1233.9h0M580.2 1209.3h0M583.7 1225.2h0M587.2 1237.8h0M590.7 1243.7h0M594.3 1227.2h0M597.8 1248.8h0M601.3 1238.9h0M604.8 1239.7h0M608.4 1242.6h0M611.9 1229.1h0M615.4 1241.9h0M618.9 1229.9h0M622.5 1229.1h0M626 1246h0M629.5 1210h0M633 1200h0M636.6 1224.5h0M640.1 1236.7h0M643.6 1223.1h0M647.1 1229.6h0M650.7 1233h0M654.2 1218.9h0M657.7 1241.9h0M661.3 1252.6h0M664.8 1243.7h0M668.3 1229h0M671.8 1223.9h0M675.4 1227.2h0M678.9 1237.6h0M682.4 1232.6h0M685.9 1218h0M689.5 1223h0M693 1228.5h0M696.5 1234.4h0M700 1244.3h0M703.6 1242.5h0M707.1 1225.9h0M710.6 1224.3h0M714.1 1222.6h0M717.7 1245.4h0M721.2 1219.6h0M724.7 1227.2h0M728.2 1233.7h0M731.8 1222.2h0M735.3 1237.5h0M738.8 1218h0M742.3 1223.4h0M745.9 1224.4h0M749.4 1209.1h0M752.9 1199.7h0M756.5 1226.2h0M760 1235.2h0M763.5 1215.4h0M767 1223.2h0M770.6 1229.3h0M774.1 1243.7h0M777.6 1225.7h0M781.1 1212.3h0M784.7 1211.3h0M788.2 1219.5h0M791.7 1205.3h0M795.2 1190.2h0M798.8 1199.1h0M802.3 1206.7h0M805.8 1209.4h0M809.3 1196h0M812.9 1202.9h0M816.4 1204.6h0M819.9 1208.3h0M823.4 1218h0M827 1211.5h0M830.5 1210.2h0M834 1207.1h0M837.6 1213.3h0M841.1 1205.6h0M844.6 1214.2h0M848.1 1225h0M851.7 1241.5h0M855.2 1230.5h0M858.7 1214.2h0M862.2 1211.5h0M865.8 1210.8h0M869.3 1224.4h0M872.8 1228.2h0M876.3 1224.9h0M879.9 1242.3h0M883.4 1239h0M886.9 1240.3h0M890.4 1237.5h0M894 1240.6h0M897.5 1226.4h0M901 1209.4h0M904.5 1219.1h0M908.1 1194.2h0M911.6 1197.9h0M915.1 1203.3h0M918.6 1215.4h0M922.2 1208.2h0M925.7 1213.9h0M929.2 1215.9h0M932.8 1197.4h0M936.3 1208.9h0M939.8 1217.6h0M943.3 1210.3h0M946.9 1208.5h0M950.4 1190.4h0M953.9 1216.5h0M957.4 1219.1h0M961 1204.8h0M964.5 1211h0M968 1200.9h0M971.5 1198h0M975.1 1199.7h0M978.6 1209.5h0M982.1 1216.6h0M985.6 1225.5h0M989.2 1218.4h0M992.7 1220h0M996.2 1214.9h0M999.7 1207.1h0M1003.3 1230.4h0M1006.8 1221.7h0M1010.3 1218.2h0M1013.9 1205.3h0M1017.4 1216.4h0M1020.9 1230h0M1024.4 1234.6h0M1028 1212.4h0M1031.5 1191.8h0M1035 1214.5h0M1038.5 1228.2h0M1042.1 1231.4h0M1045.6 1213.5h0M1049.1 1222.7h0M1052.6 1223.9h0M1056.2 1235.2h0M1059.7 1243.3h0M1063.2 1262.5h0M1066.7 1255h0M1070.3 1255.5h0M1073.8 1254.2h0M1077.3 1244.9h0M1080.8 1238.7h0M1084.4 1236.2h0M1087.9 1242.2h0M1091.4 1242.9h0M1095 1247.5h0M1098.5 1257h0M1102 1257.9h0M1105.5 1256.8h0M1109.1 1257.3h0M1112.6 1259.8h0M1116.1 1264h0M1119.6 1254.4h0M1123.2 1252.2h0M1126.7 1253.6h0M1130.2 1242.7h0M1133.7 1248h0M1137.3 1257.9h0M1140.8 1257.1h0M1144.3 1251.4h0M1147.8 1260.3h0M1151.4 1249.1h0M1154.9 1241.8h0M1158.4 1240h0M1161.9 1244.8h0M1165.5 1247h0M1169 1246.4h0M1172.5 1254.8h0M1176 1266.2h0M1179.6 1262.1h0M1183.1 1273h0M1186.6 1258.5h0M1190.2 1251.7h0M1193.7 1251.3h0M1197.2 1266.5h0M1200.7 1275.6h0M1204.3 1274h0M1207.8 1274.6h0M1211.3 1263h0M1214.8 1287.4h0M1218.4 1289.6h0M1221.9 1276.8h0M1225.4 1282.4h0M1228.9 1254.2h0M1232.5 1269.4h0M1236 1276.7h0M1239.5 1269.7h0M1243 1278h0M1246.6 1273.6h0M1250.1 1275h0M1253.6 1289.9h0M1257.1 1279h0M1260.7 1285.2h0M1264.2 1280h0M1267.7 1279.4h0M1271.2 1282.3h0M1274.8 1283.2h0M1278.3 1284.2h0M1281.8 1261.1h0M1285.4 1275.8h0M1288.9 1287h0M1292.4 1288.4h0M1295.9 1291h0M1299.5 1284.3h0M1303 1275.8h0M1306.5 1287.5h0M1310 1273.4h0M1313.6 1289.6h0M1317.1 1284.6h0M1320.6 1282.8h0M1324.1 1278.6h0M1327.7 1295.6h0M1331.2 1282.3h0M1334.7 1295.4h0M1338.2 1287.6h0M1341.8 1296h0M1345.3 1278.9h0M1348.8 1282.7h0M1352.3 1286.2h0M1355.9 1294.8h0M1359.4 1295.6h0M1362.9 1280.8h0M1366.5 1277h0M1370 1267.9h0M1373.5 1281h0M1377 1273.9h0M1380.6 1271.1h0M1384.1 1271h0M1387.6 1270h0M1391.1 1275.9h0M1394.7 1288.9h0M1398.2 1282.7h0M1401.7 1281.7h0M1405.2 1289.5h0M1408.8 1276.2h0M1412.3 1283.8h0M131.5 1305.9h0M325.8 1302.8h0M358 1300.2h0M526.4 1273.1h0M625.6 1257.1h0M862.3 1124.5h0M805.4 1239.1h0M869 1231.7h0M981.2 1244.1h0M1058.7 1268h0M1204 1300.9h0M1104 1254.3h0M1341.4 1308h0M1397.2 1308.5h0M1225.3 1303.7h0" stroke="#00ff00" stroke-width="13.2" stroke-linecap="round" fill="none"/>
<path d="M128.8 1276h0M132.4 1265.7h0M135.9 1282.9h0M139.4 1270.8h0M142.9 1267.3h0M146.5 1286.2h0M150 1297.3h0M153.5 1298.6h0M157 1286.8h0M160.6 1285.9h0M164.1 1273.9h0M167.6 1275.1h0M171.1 1271.5h0M174.7 1266.5h0M178.2 1268.3h0M181.7 1291.5h0M185.2 1283.3h0M188.8 1288.2h0M192.3 1282.3h0M195.8 1260.3h0M199.3 1257.5h0M202.9 1271.9h0M206.4 1278h0M209.9 1295.6h0M213.4 1272h0M217 1291.8h0M220.5 1279.8h0M224 1272.7h0M227.6 1266.9h0M231.1 1263h0M234.6 1267.9h0M238.1 1283.8h0M241.7 1264h0M245.2 1270.7h0M248.7 1277h0M252.2 1287h0M255.8 1271.3h0M259.3 1286.3h0M262.8 1271.4h0M266.3 1274.4h0M269.9 1276.1h0M273.4 1263.8h0M276.9 1271.9h0M280.4 1295h0M284 1273h0M287.5 1280.6h0M291 1269.3h0M294.5 1255.9h0M298.1 1256h0M301.6 1261.5h0M305.1 1250.4h0M308.7 1261.1h0M312.2 1258.9h0M315.7 1242.1h0M319.2 1251.1h0M322.8 1256.8h0M326.3 1254.5h0M329.8 1268.8h0M333.3 1258.2h0M336.9 1261.7h0M340.4 1253.5h0M343.9 1251.8h0M347.4 1266.8h0M351 1253.2h0M354.5 1248.5h0M358 1243.8h0M361.5 1245h0M365.1 1244.9h0M368.6 1248h0M372.1 1242.2h0M375.6 1269.4h0M379.2 1266.2h0M382.7 1257.1h0M386.2 1256.9h0M389.8 1246.6h0M393.3 1253.1h0M396.8 1265.6h0M400.3 1258.5h0M403.9 1263.2h0M407.4 1237.9h0M410.9 1238.5h0M414.4 1244.9h0M418 1245.7h0M421.5 1261.5h0M425 1242.3h0M428.5 1249h0M432.1 1246.6h0M435.6 1246.7h0M439.1 1249.2h0M442.6 1253.6h0M446.2 1250.8h0M449.7 1238.1h0M453.2 1229.9h0M456.7 1238.6h0M460.3 1254.4h0M463.8 1231.7h0M467.3 1245h0M470.8 1237.7h0M474.4 1231h0M477.9 1241.6h0M481.4 1244.7h0M485 1256.4h0M488.5 1242.9h0M492 1228h0M495.5 1239.4h0M499.1 1240.6h0M502.6 1236.5h0M506.1 1246.7h0M509.6 1246.6h0M513.2 1256.1h0M516.7 1257.5h0M520.2 1234.3h0M523.7 1224.9h0M527.3 1231.8h0M530.8 1241.8h0M534.3 1235.2h0M537.8 1227.7h0M541.4 1250.4h0M544.9 1239.2h0M548.4 1242.2h0M551.9 1231.2h0M555.5 1225.3h0M559 1234.3h0M562.5 1243.8h0M566 1226.3h0M569.6 1233.3h0M573.1 1230.5h0M576.6 1225.6h0M580.2 1207.1h0M583.7 1211.6h0M587.2 1203h0M590.7 1216.8h0M594.3 1205.9h0M597.8 1208.1h0M601.3 1215.1h0M604.8 1202.5h0M608.4 1201.2h0M611.9 1215.6h0M615.4 1230.5h0M618.9 1211.2h0M622.5 1216.7h0M626 1207.4h0M629.5 1201.8h0M633 1224.3h0M636.6 1218.3h0M640.1 1228.8h0M643.6 1223.3h0M647.1 1201.9h0M650.7 1210.9h0M654.2 1200.4h0M657.7 1204.3h0M661.3 1198.1h0M664.8 1208.9h0M668.3 1219h0M671.8 1222.6h0M675.4 1215.8h0M678.9 1201.8h0M682.4 1197.4h0M685.9 1201.6h0M689.5 1210.4h0M693 1178.3h0M696.5 1192.7h0M700 1189.5h0M703.6 1193.3h0M707.1 1183.6h0M710.6 1193h0M714.1 1203.3h0M717.7 1193.1h0M721.2 1188.4h0M724.7 1211.6h0M728.2 1190.6h0M731.8 1197.6h0M735.3 1197.3h0M738.8 1206.7h0M742.3 1206.8h0M745.9 1219.3h0M749.4 1224.9h0M752.9 1217.8h0M756.5 1212.3h0M760 1193.2h0M763.5 1197.9h0M767 1218.1h0M770.6 1218.4h0M774.1 1226.8h0M777.6 1202h0M781.1 1205h0M784.7 1213.6h0M788.2 1197.5h0M791.7 1215.3h0M795.2 1223.1h0M798.8 1212.6h0M802.3 1196.7h0M805.8 1196.8h0M809.3 1191.3h0M812.9 1175.8h0M816.4 1171.3h0M819.9 1177.7h0M823.4 1185.8h0M827 1180.3h0M830.5 1214.8h0M834 1197.8h0M837.6 1196.6h0M841.1 1213.5h0M844.6 1218.8h0M848.1 1206.9h0M851.7 1204.2h0M855.2 1206.8h0M858.7 1200.6h0M862.2 1206h0M865.8 1181.5h0M869.3 1186.1h0M872.8 1189.1h0M876.3 1206.3h0M879.9 1174.8h0M883.4 1186.4h0M886.9 1200.3h0M890.4 1204.8h0M894 1196.4h0M897.5 1173.2h0M901 1187.9h0M904.5 1209.3h0M908.1 1208.7h0M911.6 1165.7h0M915.1 1176h0M918.6 1185.2h0M922.2 1176.8h0M925.7 1173.2h0M929.2 1181.2h0M932.8 1187h0M936.3 1179.4h0M939.8 1175.2h0M943.3 1180.4h0M946.9 1166.8h0M950.4 1174.8h0M953.9 1192.4h0M957.4 1189.9h0M961 1194.1h0M964.5 1193.9h0M968 1194.3h0M971.5 1186.7h0M975.1 1202h0M978.6 1218.7h0M982.1 1235.1h0M985.6 1217.3h0M989.2 1215.3h0M992.7 1216h0M996.2 1210.3h0M999.7 1201.8h0M1003.3 1200h0M1006.8 1212.6h0M1010.3 1208.9h0M1013.9 1197.2h0M1017.4 1206.3h0M1020.9 1208.1h0M1024.4 1211h0M1028 1188.2h0M1031.5 1205.1h0M1035 1190.7h0M1038.5 1220.2h0M1042.1 1204.5h0M1045.6 1226.1h0M1049.1 1240.3h0M1052.6 1235.4h0M1056.2 1260.8h0M1059.7 1230.7h0M1063.2 1242.1h0M1066.7 1248.8h0M1070.3 1226.2h0M1073.8 1239.4h0M1077.3 1245.5h0M1080.8 1253.2h0M1084.4 1236.8h0M1087.9 1236.6h0M1091.4 1227.2h0M1095 1234.2h0M1098.5 1237.1h0M1102 1242.8h0M1105.5 1224.5h0M1109.1 1215.6h0M1112.6 1237.6h0M1116.1 1252.5h0M1119.6 1253.6h0M1123.2 1248.4h0M1126.7 1248.2h0M1130.2 1263.6h0M1133.7 1258.1h0M1137.3 1259.3h0M1140.8 1256.1h0M1144.3 1251.2h0M1147.8 1247.7h0M1151.4 1237.1h0M1154.9 1233.2h0M1158.4 1235.8h0M1161.9 1252.1h0M1165.5 1244.8h0M1169 1249.5h0M1172.5 1269.4h0M1176 1259h0M1179.6 1264.4h0M1183.1 1266.7h0M1186.6 1259.7h0M1190.2 1260.7h0M1193.7 1264.5h0M1197.2 1253.2h0M1200.7 1264.8h0M1204.3 1271.2h0M1207.8 1270.9h0M1211.3 1254.8h0M1214.8 1270.9h0M1218.4 1272h0M1221.9 1275.7h0M1225.4 1271.6h0M1228.9 1291.7h0M1232.5 1274.3h0M1236 1289.6h0M1239.5 1273.9h0M1243 1264.3h0M1246.6 1270h0M1250.1 1276.9h0M1253.6 1272.4h0M1257.1 1270.6h0M1260.7 1283.1h0M1264.2 1271.3h0M1267.7 1266.5h0M1271.2 1266.7h0M1274.8 1278.2h0M1278.3 1266.9h0M1281.8 1265.3h0M1285.4 1253h0M1288.9 1271.7h0M1292.4 1281.4h0M1295.9 1293.6h0M1299.5 1283.7h0M1303 1273.7h0M1306.5 1270.6h0M1310 1284.5h0M1313.6 1286.7h0M1317.1 1277.9h0M1320.6 1284.4h0M1324.1 1296.8h0M1327.7 1263.1h0M1331.2 1265.9h0M1334.7 1274h0M1338.2 1253.9h0M1341.8 1264.5h0M1345.3 1269.1h0M1348.8 1272.3h0M1352.3 1272h0M1355.9 1283.9h0M1359.4 1281.5h0M1362.9 1283.8h0M1366.5 1273h0M1370 1273.1h0M1373.5 1278.8h0M1377 1282.6h0M1380.6 1289.7h0M1384.1 1280.7h0M1387.6 1287h0M1391.1 1285.4h0M1394.7 1268.8h0M1398.2 1281.8h0M1401.7 1283.2h0M1405.2 1279.2h0M1408.8 1279.6h0M1412.3 1282.8h0M188.6 1214.1h0M300.8 1297.6h0M244.7 1298.7h0M431.7 1209.1h0M358 1288.4h0M413.3 1283.7h0M604.6 1110.7h0M636.2 1114.7h0M720.5 1149.5h0M752.3 1170.7h0M639.2 1180.8h0M865.3 1074.1h0M862.3 1119.5h0M978.2 1171.3h0M1027.4 1169.5h0M1305.4 1233.1h0M1301.8 1240.2h0M1358.8 1259.5h0" stroke="#0000ff" stroke-width="13.2" stroke-linecap="round" fill="none"/>
<path d="M128.8 1283.4h0M132.4 1288.6h0M135.9 1287.9h0M139.4 1294.3h0M142.9 1293.9h0M146.5 1284.3h0M150 1275.8h0M153.5 1262.2h0M157 1282.1h0M160.6 1296.2h0M164.1 1294h0M167.6 1291.2h0M171.1 1272.4h0M174.7 1283.5h0M178.2 1272.8h0M181.7 1290.8h0M185.2 1281.4h0M188.8 1292.1h0M192.3 1292.4h0M195.8 1275.7h0M199.3 1264.3h0M202.9 1267.7h0M206.4 1260.5h0M209.9 1248.2h0M213.4 1278.7h0M217 1286.4h0M220.5 1277.3h0M224 1283.2h0M227.6 1290.7h0M231.1 1268.1h0M234.6 1281.1h0M238.1 1287.8h0M241.7 1283.5h0M245.2 1275.1h0M248.7 1262.3h0M252.2 1270.2h0M255.8 1266.1h0M259.3 1250.4h0M262.8 1256.9h0M266.3 1264.9h0M269.9 1279.9h0M273.4 1259.9h0M276.9 1266.6h0M280.4 1266.3h0M284 1255.5h0M287.5 1267.1h0M291 1255.1h0M294.5 1245.3h0M298.1 1266.6h0M301.6 1253h0M305.1 1271.1h0M308.7 1268.3h0M312.2 1246.8h0M315.7 1272.1h0M319.2 1260.8h0M322.8 1258.4h0M326.3 1260.8h0M329.8 1245.8h0M333.3 1248.4h0M336.9 1256.3h0M340.4 1257.4h0M343.9 1268.8h0M347.4 1256.4h0M351 1246.5h0M354.5 1250.6h0M358 1242.9h0M361.5 1245.7h0M365.1 1259.4h0M368.6 1257.3h0M372.1 1239.9h0M375.6 1236.3h0M379.2 1239.3h0M382.7 1245.6h0M386.2 1264.9h0M389.8 1269.5h0M393.3 1257.8h0M396.8 1267.2h0M400.3 1240.4h0M403.9 1240.5h0M407.4 1263.2h0M410.9 1248.4h0M414.4 1237h0M418 1232.1h0M421.5 1262.9h0M425 1253h0M428.5 1264.6h0M432.1 1268h0M435.6 1238.2h0M439.1 1257.3h0M442.6 1268.6h0M446.2 1268h0M449.7 1272.9h0M453.2 1243.8h0M456.7 1249.1h0M460.3 1250.3h0M463.8 1248h0M467.3 1257.4h0M470.8 1251h0M474.4 1241.8h0M477.9 1234.2h0M481.4 1233.5h0M485 1237.1h0M488.5 1250.6h0M492 1235.6h0M495.5 1229.2h0M499.1 1244.4h0M502.6 1238.8h0M506.1 1219.9h0M509.6 1236.7h0M513.2 1249.3h0M516.7 1238h0M520.2 1233.2h0M523.7 1238.6h0M527.3 1245.5h0M530.8 1261.9h0M534.3 1238.9h0M537.8 1251.9h0M541.4 1234.2h0M544.9 1245.7h0M548.4 1240h0M551.9 1226.3h0M555.5 1219.8h0M559 1226.3h0M562.5 1219.3h0M566 1218.3h0M569.6 1224.4h0M573.1 1218.8h0M576.6 1220.7h0M580.2 1236.3h0M583.7 1240.2h0M587.2 1229.1h0M590.7 1224.3h0M594.3 1234.3h0M597.8 1242.2h0M601.3 1231.2h0M604.8 1225.2h0M608.4 1232.2h0M611.9 1205.6h0M615.4 1208.4h0M618.9 1213.3h0M622.5 1215.1h0M626 1232.9h0M629.5 1244.5h0M633 1225.7h0M636.6 1241.2h0M640.1 1220.4h0M643.6 1227.4h0M647.1 1227.2h0M650.7 1238.9h0M654.2 1219.6h0M657.7 1227.2h0M661.3 1216.1h0M664.8 1212.7h0M668.3 1192h0M671.8 1192.8h0M675.4 1218h0M678.9 1232.4h0M682.4 1218.7h0M685.9 1207h0M689.5 1207.8h0M693 1216.6h0M696.5 1212.8h0M700 1223.1h0M703.6 1226h0M707.1 1223.2h0M710.6 1205.3h0M714.1 1209.6h0M717.7 1214.1h0M721.2 1225.4h0M724.7 1224.7h0M728.2 1224.9h0M731.8 1203.2h0M735.3 1186.6h0M738.8 1194.6h0M742.3 1201.7h0M745.9 1230.6h0M749.4 1228.6h0M752.9 1211.8h0M756.5 1207.8h0M760 1216.2h0M763.5 1217.2h0M767 1187.7h0M770.6 1183.4h0M774.1 1200.7h0M777.6 1193.3h0M781.1 1183.7h0M784.7 1179.7h0M788.2 1204.4h0M791.7 1194.1h0M795.2 1202h0M798.8 1174.3h0M802.3 1190.3h0M805.8 1221.9h0M809.3 1237.6h0M812.9 1208.5h0M816.4 1232h0M819.9 1228.7h0M823.4 1233.5h0M827 1197.1h0M830.5 1216.5h0M834 1189.9h0M837.6 1216.4h0M841.1 1215.2h0M844.6 1219.6h0M848.1 1210.5h0M851.7 1214.8h0M855.2 1223.2h0M858.7 1207.9h0M862.2 1211.2h0M865.8 1214.7h0M869.3 1195.3h0M872.8 1212.8h0M876.3 1219.4h0M879.9 1205.6h0M883.4 1223.1h0M886.9 1207.1h0M890.4 1209.5h0M894 1213.4h0M897.5 1223.6h0M901 1231.3h0M904.5 1238.8h0M908.1 1219h0M911.6 1192.1h0M915.1 1217.7h0M918.6 1215.3h0M922.2 1202.6h0M925.7 1211.3h0M929.2 1208.1h0M932.8 1204h0M936.3 1202.1h0M939.8 1219h0M943.3 1212h0M946.9 1186.8h0M950.4 1198.5h0M953.9 1207.7h0M957.4 1229.6h0M961 1212.8h0M964.5 1225.8h0M968 1223.7h0M971.5 1219.9h0M975.1 1218.6h0M978.6 1223.9h0M982.1 1200h0M985.6 1197.1h0M989.2 1197.3h0M992.7 1237.4h0M996.2 1239.4h0M999.7 1231.4h0M1003.3 1237.8h0M1006.8 1232.7h0M1010.3 1218.3h0M1013.9 1220.5h0M1017.4 1216.2h0M1020.9 1211.3h0M1024.4 1205.2h0M1028 1201.1h0M1031.5 1215.9h0M1035 1214.4h0M1038.5 1195.7h0M1042.1 1228h0M1045.6 1223.9h0M1049.1 1193.8h0M1052.6 1216.4h0M1056.2 1233.6h0M1059.7 1243.8h0M1063.2 1238.5h0M1066.7 1237.5h0M1070.3 1232.7h0M1073.8 1248.5h0M1077.3 1239.6h0M1080.8 1255.2h0M1084.4 1253.6h0M1087.9 1232.2h0M1091.4 1254.8h0M1095 1242.9h0M1098.5 1254.6h0M1102 1246.1h0M1105.5 1242.7h0M1109.1 1248.7h0M1112.6 1265.7h0M1116.1 1259h0M1119.6 1250.5h0M1123.2 1248.3h0M1126.7 1251.6h0M1130.2 1245.7h0M1133.7 1257.4h0M1137.3 1260h0M1140.8 1256.3h0M1144.3 1248.8h0M1147.8 1246.7h0M1151.4 1252.6h0M1154.9 1243.3h0M1158.4 1251.8h0M1161.9 1244h0M1165.5 1240.4h0M1169 1255.9h0M1172.5 1254.7h0M1176 1241.7h0M1179.6 1232.7h0M1183.1 1255.4h0M1186.6 1272.1h0M1190.2 1256.3h0M1193.7 1262.8h0M1197.2 1240.1h0M1200.7 1249.1h0M1204.3 1248h0M1207.8 1252.4h0M1211.3 1270.5h0M1214.8 1264.4h0M1218.4 1266.6h0M1221.9 1253.9h0M1225.4 1257.3h0M1228.9 1259.8h0M1232.5 1272.3h0M1236 1250.6h0M1239.5 1278.2h0M1243 1257.6h0M1246.6 1249.4h0M1250.1 1253.6h0M1253.6 1267.7h0M1257.1 1262.5h0M1260.7 1259.2h0M1264.2 1283.1h0M1267.7 1274.1h0M1271.2 1264.7h0M1274.8 1286.3h0M1278.3 1280.5h0M1281.8 1277.1h0M1285.4 1266h0M1288.9 1258.6h0M1292.4 1269.3h0M1295.9 1296.1h0M1299.5 1275.5h0M1303 1276.7h0M1306.5 1266.6h0M1310 1270.4h0M1313.6 1280.2h0M1317.1 1283.2h0M1320.6 1266.3h0M1324.1 1252.5h0M1327.7 1269.5h0M1331.2 1280.9h0M1334.7 1288.6h0M1338.2 1281.5h0M1341.8 1293.2h0M1345.3 1280.7h0M1348.8 1294.8h0M1352.3 1305.8h0M1355.9 1279.9h0M1359.4 1301.4h0M1362.9 1297.5h0M1366.5 1292.5h0M1370 1296.1h0M1373.5 1290.3h0M1377 1273.8h0M1380.6 1289h0M1384.1 1294.6h0M1387.6 1282h0M1391.1 1299.7h0M1394.7 1277.9h0M1398.2 1277.4h0M1401.7 1265.4h0M1405.2 1270.3h0M1408.8 1268.9h0M1412.3 1283.5h0M230.8 1239.4h0M297.7 1239h0M131.5 1318.4h0M244.7 1319.4h0M269.2 1308h0M300.8 1310.1h0M188.6 1305.9h0M154.4 1245.7h0M163.7 1248.8h0M512.7 1169.5h0M358 1306.1h0M413.8 1293.1h0M438.8 1269.6h0M495.3 1264.2h0M526.4 1264.9h0M519.3 1201.3h0M643.2 1126h0M756.3 1149.5h0M583.4 1273.1h0M699.3 1161.3h0M685.1 1179.4h0M862.3 1152.6h0M943 1148.9h0M805.4 1227.9h0M1013.3 1163.6h0M1034.5 1253.1h0M1091 1272.7h0M1147.5 1281.4h0M1204 1287.3h0M1175.8 1226h0M1302.3 1252.4h0M1257.1 1247.7h0M1358.8 1235.9h0M1285.3 1294.3h0M1316.7 1313.2h0M1397.2 1297.2h0M1372.5 1298.6h0M1225.3 1297.9h0" stroke="#00ffff" stroke-width="13.2" stroke-linecap="round" fill="none"/>
<path d="M125.3 927.8V1347.6H1429.9M231.1 1347.6v-13.5M336.9 1347.6v-13.5M442.6 1347.6v-13.5M548.4 1347.6v-13.5M654.2 1347.6v-13.5M760 1347.6v-13.5M865.8 1347.6v-13.5M971.5 1347.6v-13.5M1077.3 1347.6v-13.5M1183.1 1347.6v-13.5M1288.9 1347.6v-13.5M1394.7 1347.6v-13.5M125.3 1347.6h13.5M125.3 1233.1h13.5M125.3 1118.7h13.5M125.3 1004.2h13.5" stroke="#6a6a6a" stroke-width="2.5" fill="none"/>
<g transform="translate(112.7 1359.8) scale(1 1.07)"><text text-anchor="end" class="tk">0</text></g>
<g transform="translate(112.7 1245.3) scale(1 1.07)"><text text-anchor="end" class="tk">3</text></g>
<g transform="translate(112.7 1130.9) scale(1 1.07)"><text text-anchor="end" class="tk">6</text></g>
<g transform="translate(112.7 1016.5) scale(1 1.07)"><text text-anchor="end" class="tk">9</text></g>
<g transform="translate(231.1 1390.2) scale(1 1.07)"><text text-anchor="middle" class="tk">30</text></g>
<g transform="translate(336.9 1390.2) scale(1 1.07)"><text text-anchor="middle" class="tk">60</text></g>
<g transform="translate(442.6 1390.2) scale(1 1.07)"><text text-anchor="middle" class="tk">90</text></g>
<g transform="translate(548.4 1390.2) scale(1 1.07)"><text text-anchor="middle" class="tk">120</text><path d="M-23.05 -3H-17.17V0.9H-23.05ZM-14.41 -3H-8.86V0.9H-14.41Z" fill="#fff"/></g>
<g transform="translate(654.2 1390.2) scale(1 1.07)"><text text-anchor="middle" class="tk">150</text><path d="M-23.05 -3H-17.17V0.9H-23.05ZM-14.41 -3H-8.86V0.9H-14.41Z" fill="#fff"/></g>
<g transform="translate(760 1390.2) scale(1 1.07)"><text text-anchor="middle" class="tk">180</text><path d="M-23.05 -3H-17.17V0.9H-23.05ZM-14.41 -3H-8.86V0.9H-14.41Z" fill="#fff"/></g>
<g transform="translate(865.8 1390.2) scale(1 1.07)"><text text-anchor="middle" class="tk">210</text><path d="M-6.90 -3H-1.03V0.9H-6.90ZM1.73 -3H7.29V0.9H1.73Z" fill="#fff"/></g>
<g transform="translate(971.5 1390.2) scale(1 1.07)"><text text-anchor="middle" class="tk">240</text></g>
<g transform="translate(1077.3 1390.2) scale(1 1.07)"><text text-anchor="middle" class="tk">270</text></g>
<g transform="translate(1183.1 1390.2) scale(1 1.07)"><text text-anchor="middle" class="tk">300</text></g>
<g transform="translate(1288.9 1390.2) scale(1 1.07)"><text text-anchor="middle" class="tk">330</text></g>
<g transform="translate(1394.7 1390.2) scale(1 1.07)"><text text-anchor="middle" class="tk">360</text></g>
<text transform="translate(39.9 1057.8) rotate(-90)" text-anchor="middle" class="lb">RMS (mm)</text>
<text x="778" y="1431.5" text-anchor="middle" class="lb xl">Day of Year</text>
<rect x="122" y="21.3" width="1299.6" height="45.9" fill="#fff" stroke="#6a6a6a" stroke-width="2.4"/>
<circle cx="215.4" cy="43.8" r="9.8" fill="#ff0000"/>
<text x="256" y="53" class="lg">Original MODIS PWV</text>
<circle cx="618.1" cy="43.8" r="9.8" fill="#00ff00"/>
<text x="658.7" y="53" class="lg">GRNN result</text>
<circle cx="917.9" cy="43.8" r="9.8" fill="#0000ff"/>
<text x="958.5" y="53" class="lg">BPNN result</text>
<circle cx="1212.9" cy="43.8" r="9.8" fill="#00ffff"/>
<text x="1253.5" y="53" class="lg">RF result</text>
</svg>
</body></html>
